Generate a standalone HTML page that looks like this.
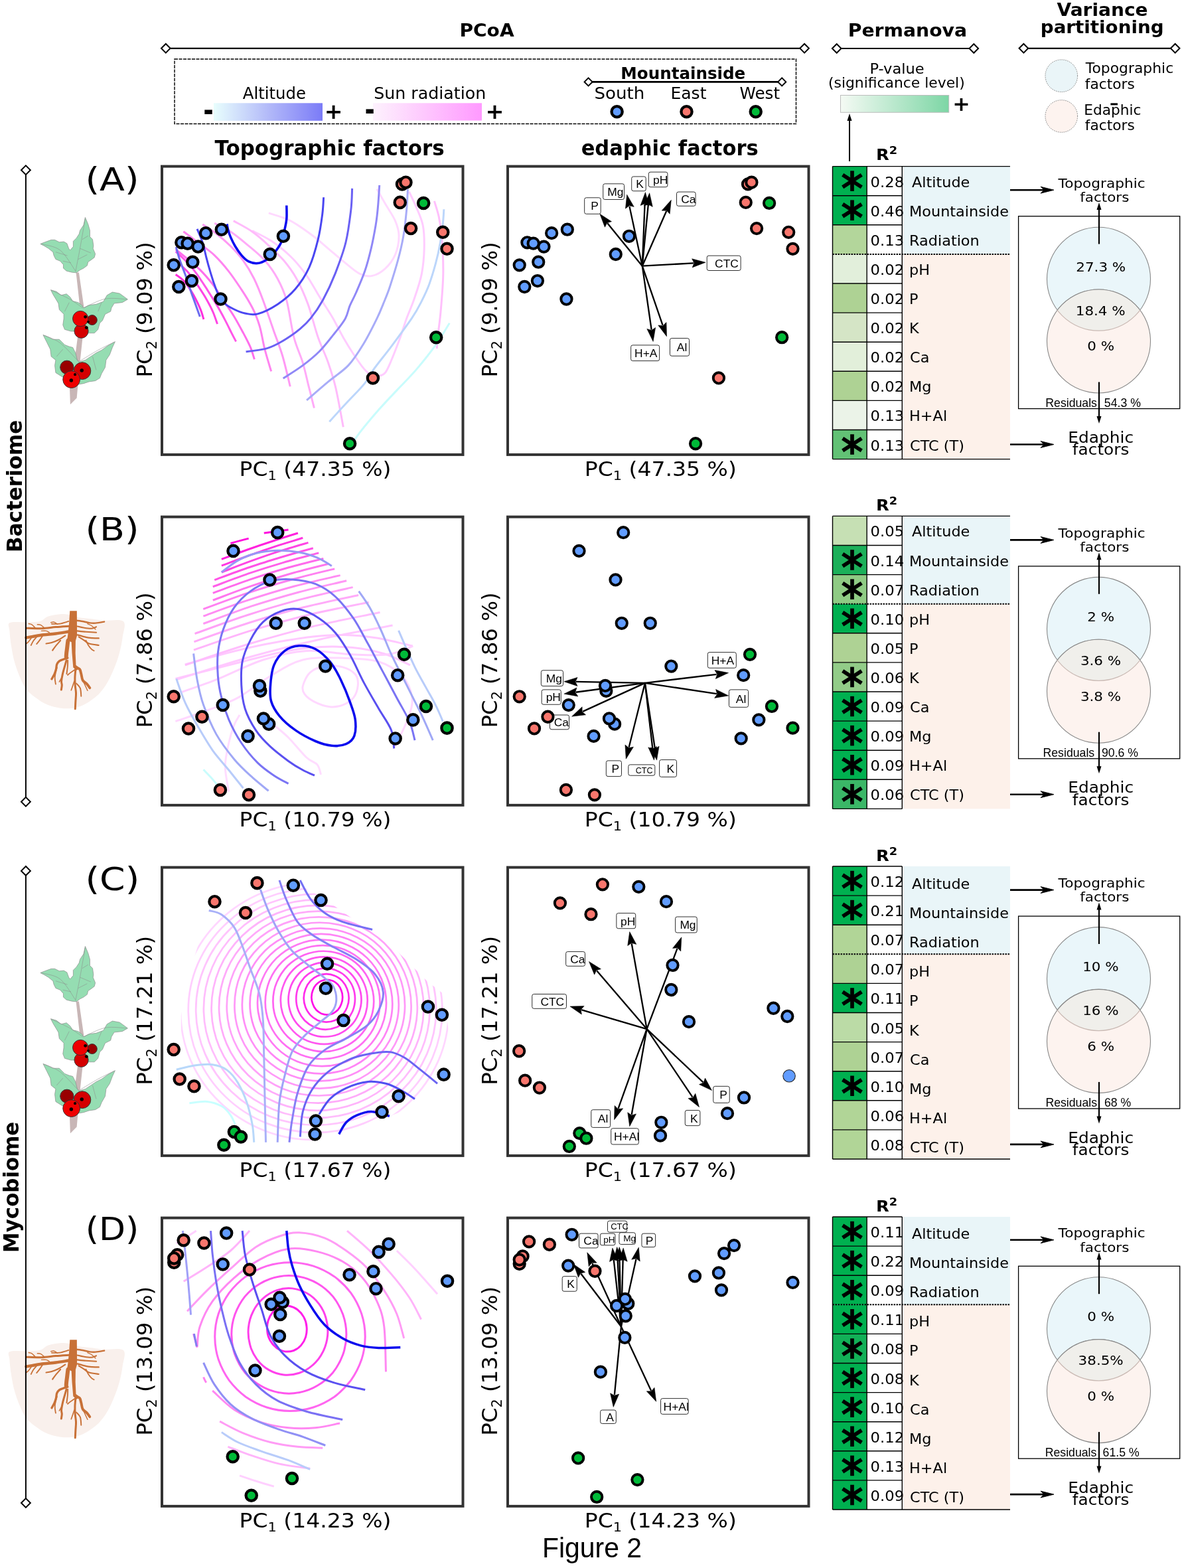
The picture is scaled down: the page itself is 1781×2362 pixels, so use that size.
<!DOCTYPE html><html><head><meta charset="utf-8"><style>html,body{margin:0;padding:0;background:#fff;}svg{display:block;}</style></head><body>
<svg width="1781" height="2362" viewBox="0 0 1781 2362">
<rect width="1781" height="2362" fill="#fff"/>
<text x="692.41" y="54.80" font-size="27.3" font-weight="bold" font-family="'DejaVu Sans', Verdana, sans-serif" fill="#000" textLength="82.21" lengthAdjust="spacingAndGlyphs">PCoA</text>
<line x1="249.8" y1="72.8" x2="1212.1" y2="72.8" stroke="#000" stroke-width="2.2"/>
<path d="M243.0,72.8L249.8,66.0L256.6,72.8L249.8,79.6Z" fill="#fff" stroke="#000" stroke-width="2.0"/>
<path d="M1205.3,72.8L1212.1,66.0L1218.9,72.8L1212.1,79.6Z" fill="#fff" stroke="#000" stroke-width="2.0"/>
<rect x="263" y="89" width="936.5" height="97.5" fill="none" stroke="#000" stroke-width="1.4" stroke-dasharray="5,1.5"/>
<defs><linearGradient id="gAlt" x1="0" x2="1" y1="0" y2="0"><stop offset="0" stop-color="#e8fefd"/><stop offset="0.5" stop-color="#b3baf9"/><stop offset="1" stop-color="#7b7bf7"/></linearGradient><linearGradient id="gSun" x1="0" x2="1" y1="0" y2="0"><stop offset="0" stop-color="#fdf2fd"/><stop offset="1" stop-color="#ff99ff"/></linearGradient><linearGradient id="gP" x1="0" x2="1" y1="0" y2="0"><stop offset="0" stop-color="#f5faf4"/><stop offset="1" stop-color="#7dd6a5"/></linearGradient></defs>
<text x="365.80" y="148.60" font-size="24.5" font-weight="normal" font-family="'DejaVu Sans', Verdana, sans-serif" fill="#000" textLength="95.15" lengthAdjust="spacingAndGlyphs">Altitude</text>
<rect x="322" y="155.3" width="164" height="26.6" fill="url(#gAlt)"/>
<text x="306.16" y="181.90" font-size="46" font-weight="bold" font-family="'DejaVu Sans', Verdana, sans-serif" fill="#000" textLength="15.55" lengthAdjust="spacingAndGlyphs">-</text>
<text x="488.85" y="179.20" font-size="31.5" font-weight="bold" font-family="'DejaVu Sans', Verdana, sans-serif" fill="#000" textLength="27.73" lengthAdjust="spacingAndGlyphs">+</text>
<text x="563.24" y="148.90" font-size="24.5" font-weight="normal" font-family="'DejaVu Sans', Verdana, sans-serif" fill="#000" textLength="169.02" lengthAdjust="spacingAndGlyphs">Sun radiation</text>
<rect x="562" y="155.3" width="164" height="26.3" fill="url(#gSun)"/>
<text x="549.60" y="181.40" font-size="46" font-weight="bold" font-family="'DejaVu Sans', Verdana, sans-serif" fill="#000" textLength="15.28" lengthAdjust="spacingAndGlyphs">-</text>
<text x="731.62" y="179.30" font-size="31.5" font-weight="bold" font-family="'DejaVu Sans', Verdana, sans-serif" fill="#000" textLength="27.99" lengthAdjust="spacingAndGlyphs">+</text>
<text x="935.28" y="118.60" font-size="24.3" font-weight="bold" font-family="'DejaVu Sans', Verdana, sans-serif" fill="#000" textLength="188.00" lengthAdjust="spacingAndGlyphs">Mountainside</text>
<line x1="886.6" y1="123.4" x2="1178.2" y2="123.4" stroke="#000" stroke-width="2.6"/>
<path d="M880.6,123.4L886.6,117.4L892.6,123.4L886.6,129.4Z" fill="#fff" stroke="#000" stroke-width="2.0"/>
<path d="M1172.2,123.4L1178.2,117.4L1184.2,123.4L1178.2,129.4Z" fill="#fff" stroke="#000" stroke-width="2.0"/>
<text x="895.47" y="149.30" font-size="24.5" font-weight="normal" font-family="'DejaVu Sans', Verdana, sans-serif" fill="#000" textLength="75.77" lengthAdjust="spacingAndGlyphs">South</text>
<text x="1010.46" y="149.30" font-size="24.5" font-weight="normal" font-family="'DejaVu Sans', Verdana, sans-serif" fill="#000" textLength="54.04" lengthAdjust="spacingAndGlyphs">East</text>
<text x="1114.60" y="149.30" font-size="24.5" font-weight="normal" font-family="'DejaVu Sans', Verdana, sans-serif" fill="#000" textLength="60.44" lengthAdjust="spacingAndGlyphs">West</text>
<circle cx="929.6" cy="168.3" r="8.1" fill="#619cff" stroke="#000" stroke-width="4.3"/>
<circle cx="1034.5" cy="168.3" r="8.1" fill="#f8766d" stroke="#000" stroke-width="4.3"/>
<circle cx="1138.7" cy="168.3" r="8.1" fill="#00ba38" stroke="#000" stroke-width="4.3"/>
<text x="1277.69" y="55.10" font-size="27.3" font-weight="bold" font-family="'DejaVu Sans', Verdana, sans-serif" fill="#000" textLength="179.44" lengthAdjust="spacingAndGlyphs">Permanova</text>
<line x1="1260.7" y1="73" x2="1467.3" y2="73" stroke="#000" stroke-width="2.2"/>
<path d="M1253.9,73.0L1260.7,66.2L1267.5,73.0L1260.7,79.8Z" fill="#fff" stroke="#000" stroke-width="2.0"/>
<path d="M1460.5,73.0L1467.3,66.2L1474.1,73.0L1467.3,79.8Z" fill="#fff" stroke="#000" stroke-width="2.0"/>
<text x="1310.40" y="111.20" font-size="21.5" font-weight="normal" font-family="'DejaVu Sans', Verdana, sans-serif" fill="#000" textLength="82.27" lengthAdjust="spacingAndGlyphs">P-value</text>
<text x="1247.97" y="132.20" font-size="21.5" font-weight="normal" font-family="'DejaVu Sans', Verdana, sans-serif" fill="#000" textLength="205.73" lengthAdjust="spacingAndGlyphs">(significance level)</text>
<rect x="1266.5" y="143.5" width="163.2" height="25.8" fill="url(#gP)" stroke="#bdbdbd" stroke-width="1"/>
<text x="1435.24" y="167.30" font-size="31" font-weight="bold" font-family="'DejaVu Sans', Verdana, sans-serif" fill="#000" textLength="26.50" lengthAdjust="spacingAndGlyphs">+</text>
<line x1="1280" y1="243" x2="1280" y2="178" stroke="#000" stroke-width="2"/>
<path d="M1276.5,182 L1280,171 L1283.5,182 Z" fill="#000"/>
<text x="1592.50" y="23.80" font-size="27.3" font-weight="bold" font-family="'DejaVu Sans', Verdana, sans-serif" fill="#000" textLength="137.06" lengthAdjust="spacingAndGlyphs">Variance</text>
<text x="1567.77" y="49.80" font-size="27.3" font-weight="bold" font-family="'DejaVu Sans', Verdana, sans-serif" fill="#000" textLength="185.83" lengthAdjust="spacingAndGlyphs">partitioning</text>
<line x1="1542.4" y1="72.8" x2="1770.7" y2="72.8" stroke="#000" stroke-width="2.2"/>
<path d="M1535.6,72.8L1542.4,66.0L1549.2,72.8L1542.4,79.6Z" fill="#fff" stroke="#000" stroke-width="2.0"/>
<path d="M1763.9,72.8L1770.7,66.0L1777.5,72.8L1770.7,79.6Z" fill="#fff" stroke="#000" stroke-width="2.0"/>
<circle cx="1599.3" cy="114.2" r="24.3" fill="#eaf5f8" stroke="#777" stroke-width="1" stroke-dasharray="1.5,1.5"/>
<circle cx="1599.3" cy="175" r="24.3" fill="#fdf3ef" stroke="#777" stroke-width="1" stroke-dasharray="1.5,1.5"/>
<text x="1635.80" y="110.30" font-size="21.5" font-weight="normal" font-family="'DejaVu Sans', Verdana, sans-serif" fill="#000" textLength="132.39" lengthAdjust="spacingAndGlyphs">Topographic</text>
<text x="1634.79" y="134.30" font-size="21.5" font-weight="normal" font-family="'DejaVu Sans', Verdana, sans-serif" fill="#000" textLength="75.03" lengthAdjust="spacingAndGlyphs">factors</text>
<text x="1633.28" y="172.90" font-size="21.5" font-weight="normal" font-family="'DejaVu Sans', Verdana, sans-serif" fill="#000" textLength="86.21" lengthAdjust="spacingAndGlyphs">Edaphic</text>
<text x="1634.79" y="196.40" font-size="21.5" font-weight="normal" font-family="'DejaVu Sans', Verdana, sans-serif" fill="#000" textLength="75.03" lengthAdjust="spacingAndGlyphs">factors</text>
<rect x="1673.4" y="155.4" width="10.6" height="3" fill="#000"/>
<text x="323.40" y="234.20" font-size="31.5" font-weight="bold" font-family="'DejaVu Sans', Verdana, sans-serif" fill="#000" textLength="346.27" lengthAdjust="spacingAndGlyphs">Topographic factors</text>
<text x="875.63" y="234.20" font-size="31.5" font-weight="bold" font-family="'DejaVu Sans', Verdana, sans-serif" fill="#000" textLength="267.04" lengthAdjust="spacingAndGlyphs">edaphic factors</text>
<text x="816.98" y="2346.30" font-size="42" font-weight="normal" font-family="'Liberation Sans', Arial, sans-serif" fill="#000" textLength="150.05" lengthAdjust="spacingAndGlyphs">Figure 2</text>
<g transform="translate(244,251) scale(0.27218)">
<path d="M591,257C611,264 669,278 710,299C751,320 801,357 836,383C871,409 892,430 920,453C948,476 975,501 1004,524C1033,547 1068,580 1095,593C1122,606 1142,609 1165,604C1188,599 1214,584 1235,565C1256,546 1278,518 1291,488C1304,458 1312,414 1312,383C1312,352 1303,327 1291,299C1279,271 1259,244 1242,215C1225,186 1199,139 1190,124" fill="none" stroke="#ffd9ff" stroke-width="11" stroke-linecap="butt" stroke-linejoin="round"/>
<path d="M500,355C518,364 570,388 605,411C640,434 678,465 710,495C742,525 768,558 794,593C820,628 845,675 864,706C883,737 896,758 910,780C924,802 932,813 948,841C964,869 985,913 1004,946C1023,979 1042,1010 1060,1037C1078,1064 1094,1088 1109,1107C1124,1126 1138,1140 1151,1149C1164,1158 1176,1161 1190,1160C1204,1159 1222,1157 1235,1142C1248,1127 1256,1105 1270,1072C1284,1039 1305,984 1319,946C1333,908 1341,876 1354,841C1367,806 1382,775 1396,734C1410,693 1429,640 1438,593C1447,546 1451,497 1452,453C1453,409 1452,364 1445,327C1438,290 1423,260 1410,229C1397,198 1375,153 1368,138" fill="none" stroke="#ffccff" stroke-width="11" stroke-linecap="butt" stroke-linejoin="round"/>
<path d="M1508,191C1512,206 1526,244 1533,278C1540,312 1546,344 1550,397C1554,450 1558,526 1557,594C1556,662 1548,746 1543,804C1538,862 1530,910 1526,944C1522,978 1523,996 1522,1007" fill="none" stroke="#ffc0fc" stroke-width="11" stroke-linecap="butt" stroke-linejoin="round"/>
<path d="M396,300C413,310 469,338 500,360C531,382 555,403 584,430C613,457 648,488 675,520C702,552 723,580 745,620C767,660 788,706 808,760C828,814 845,890 864,944C883,998 904,1037 920,1084C936,1131 948,1164 962,1224C976,1284 997,1405 1004,1441" fill="none" stroke="#ffbbfb" stroke-width="11" stroke-linecap="butt" stroke-linejoin="round"/>
<path d="M291,313C306,321 350,340 380,360C410,380 438,403 470,430C502,457 542,488 570,520C598,552 620,583 640,620C660,657 675,686 690,740C705,794 716,888 731,946C746,1004 766,1039 780,1086C794,1133 804,1184 815,1226C826,1268 838,1318 843,1336" fill="none" stroke="#ffaaf8" stroke-width="11" stroke-linecap="butt" stroke-linejoin="round"/>
<path d="M225,320C238,328 274,350 300,370C326,390 355,415 380,440C405,465 428,490 450,520C472,550 492,583 510,620C528,657 542,692 560,740C578,788 601,858 619,909C637,960 653,998 668,1049C683,1100 703,1189 710,1217" fill="none" stroke="#ff99f4" stroke-width="11" stroke-linecap="butt" stroke-linejoin="round"/>
<path d="M119,359C132,369 172,398 200,420C228,442 262,463 290,490C318,517 345,548 370,580C395,612 418,647 440,680C462,713 483,747 500,780C517,813 528,841 540,880C552,919 559,972 570,1014C581,1056 599,1113 605,1133" fill="none" stroke="#ff84f0" stroke-width="11" stroke-linecap="butt" stroke-linejoin="round"/>
<path d="M76,458C87,467 118,491 140,510C162,529 187,547 210,570C233,593 258,622 280,650C302,678 320,710 340,740C360,770 382,800 400,830C418,860 435,892 450,920C465,948 480,976 490,1000C500,1024 508,1055 512,1066" fill="none" stroke="#ff6eec" stroke-width="11" stroke-linecap="butt" stroke-linejoin="round"/>
<path d="M76,470C85,478 111,500 130,520C149,540 170,563 190,590C210,617 232,652 250,680C268,708 283,732 300,760C317,788 336,823 350,850C364,877 375,900 385,920C395,940 406,960 410,968" fill="none" stroke="#ff55e8" stroke-width="11" stroke-linecap="butt" stroke-linejoin="round"/>
<path d="M76,520C87,530 119,557 140,580C161,603 182,633 200,660C218,687 236,715 250,740C264,765 276,788 285,810C294,832 303,861 307,871" fill="none" stroke="#ff44e4" stroke-width="11" stroke-linecap="butt" stroke-linejoin="round"/>
<path d="M76,597C83,602 105,616 119,630C133,644 147,665 159,684C171,703 182,723 192,743C202,763 212,785 218,802C224,819 229,838 231,845" fill="none" stroke="#ff30dd" stroke-width="11" stroke-linecap="butt" stroke-linejoin="round"/>
<path d="M1592,866C1579,886 1545,946 1515,988C1485,1030 1445,1080 1410,1121C1375,1162 1340,1196 1305,1233C1270,1270 1235,1306 1200,1346C1165,1386 1120,1440 1095,1472C1070,1504 1060,1524 1053,1535" fill="none" stroke="#c8fcfc" stroke-width="11" stroke-linecap="butt" stroke-linejoin="round"/>
<path d="M1561,236C1560,251 1558,296 1554,327C1550,358 1546,390 1540,425C1534,460 1525,500 1515,537C1505,574 1493,614 1480,650C1467,686 1451,718 1435,750C1419,782 1410,800 1382,841C1354,882 1305,948 1270,995C1235,1042 1196,1088 1172,1122C1148,1156 1146,1170 1123,1199C1100,1228 1065,1262 1032,1297C999,1332 944,1393 927,1412" fill="none" stroke="#bcd6fb" stroke-width="11" stroke-linecap="butt" stroke-linejoin="round"/>
<path d="M1361,124C1360,144 1358,200 1354,243C1350,286 1345,336 1337,383C1329,430 1318,476 1305,523C1292,570 1275,624 1262,664C1249,704 1237,730 1225,760C1213,790 1208,804 1190,841C1172,878 1142,938 1116,981C1090,1024 1065,1065 1032,1100C999,1135 958,1159 920,1191C882,1223 821,1276 801,1293" fill="none" stroke="#a8acf8" stroke-width="11" stroke-linecap="butt" stroke-linejoin="round"/>
<path d="M1204,103C1203,120 1200,171 1197,208C1194,245 1190,286 1183,327C1176,368 1168,411 1158,453C1148,495 1137,538 1123,579C1109,620 1088,667 1074,699C1060,731 1050,746 1040,770C1030,794 1030,814 1015,841C1000,868 972,902 948,932C924,962 899,995 871,1023C843,1051 813,1075 780,1100C747,1125 689,1160 671,1172" fill="none" stroke="#9088f7" stroke-width="11" stroke-linecap="butt" stroke-linejoin="round"/>
<path d="M1053,121C1052,141 1052,194 1046,243C1040,292 1032,360 1018,418C1004,476 981,536 960,590C939,644 913,698 890,740C867,782 843,815 822,841C801,867 785,881 766,897C747,913 731,925 710,939C689,953 663,969 640,981C617,993 599,1002 570,1009C541,1016 482,1022 465,1024" fill="none" stroke="#6a60f4" stroke-width="11" stroke-linecap="butt" stroke-linejoin="round"/>
<path d="M895,170C894,186 893,225 888,264C883,303 876,355 864,404C852,453 836,512 815,558C794,604 767,644 738,678C709,712 675,739 640,762C605,785 560,807 530,815C500,823 482,816 460,812C438,808 418,799 400,790C382,781 362,770 350,760C338,750 333,746 325,733C317,720 309,704 300,680C291,656 279,620 270,590C261,560 252,528 245,500C238,472 233,446 225,420C217,394 200,358 195,345" fill="none" stroke="#4a46f2" stroke-width="11" stroke-linecap="butt" stroke-linejoin="round"/>
<path d="M78,445C82,458 91,494 100,520C109,546 120,572 130,600C140,628 151,663 160,690C169,717 177,737 185,760C193,783 206,818 210,830" fill="none" stroke="#6c6cf0" stroke-width="11" stroke-linecap="butt" stroke-linejoin="round"/>
<path d="M690,215C690,228 692,268 690,290C688,312 685,323 680,345C675,367 670,398 660,420C650,442 633,464 620,480C607,496 595,506 580,515C565,524 547,533 530,535C513,537 495,532 480,525C465,518 452,504 440,490C428,476 415,457 405,440C395,423 387,406 380,390C373,374 368,357 365,345C362,333 361,322 360,318" fill="none" stroke="#0a0af0" stroke-width="13" stroke-linecap="butt" stroke-linejoin="round"/>
<circle cx="330" cy="348" r="30.0" fill="#619cff" stroke="#000" stroke-width="15.5"/>
<circle cx="243" cy="368" r="30.0" fill="#619cff" stroke="#000" stroke-width="15.5"/>
<circle cx="108" cy="420" r="30.0" fill="#619cff" stroke="#000" stroke-width="15.5"/>
<circle cx="142" cy="425" r="30.0" fill="#619cff" stroke="#000" stroke-width="15.5"/>
<circle cx="200" cy="443" r="30.0" fill="#619cff" stroke="#000" stroke-width="15.5"/>
<circle cx="65" cy="545" r="30.0" fill="#619cff" stroke="#000" stroke-width="15.5"/>
<circle cx="170" cy="528" r="30.0" fill="#619cff" stroke="#000" stroke-width="15.5"/>
<circle cx="165" cy="632" r="30.0" fill="#619cff" stroke="#000" stroke-width="15.5"/>
<circle cx="93" cy="665" r="30.0" fill="#619cff" stroke="#000" stroke-width="15.5"/>
<circle cx="325" cy="733" r="30.0" fill="#619cff" stroke="#000" stroke-width="15.5"/>
<circle cx="598" cy="485" r="30.0" fill="#619cff" stroke="#000" stroke-width="15.5"/>
<circle cx="672" cy="385" r="30.0" fill="#619cff" stroke="#000" stroke-width="15.5"/>
<circle cx="1330" cy="97" r="30.0" fill="#f8766d" stroke="#000" stroke-width="15.5"/>
<circle cx="1350" cy="87" r="30.0" fill="#f8766d" stroke="#000" stroke-width="15.5"/>
<circle cx="1318" cy="198" r="30.0" fill="#f8766d" stroke="#000" stroke-width="15.5"/>
<circle cx="1378" cy="342" r="30.0" fill="#f8766d" stroke="#000" stroke-width="15.5"/>
<circle cx="1555" cy="363" r="30.0" fill="#f8766d" stroke="#000" stroke-width="15.5"/>
<circle cx="1578" cy="455" r="30.0" fill="#f8766d" stroke="#000" stroke-width="15.5"/>
<circle cx="1168" cy="1170" r="30.0" fill="#f8766d" stroke="#000" stroke-width="15.5"/>
<circle cx="1448" cy="202" r="30.0" fill="#00ba38" stroke="#000" stroke-width="15.5"/>
<circle cx="1518" cy="945" r="30.0" fill="#00ba38" stroke="#000" stroke-width="15.5"/>
<circle cx="1040" cy="1533" r="30.0" fill="#00ba38" stroke="#000" stroke-width="15.5"/>
</g>
<g transform="translate(765,251) scale(0.27218)">
<line x1="745" y1="550" x2="552" y2="313" stroke="#000" stroke-width="8.5"/>
<path d="M510,262L575,304L550,311L538,335Z" fill="#000" stroke="#000" stroke-width="2" stroke-linejoin="miter"/>
<line x1="745" y1="550" x2="674" y2="220" stroke="#000" stroke-width="8.5"/>
<path d="M660,155L699,222L673,216L652,232Z" fill="#000" stroke="#000" stroke-width="2" stroke-linejoin="miter"/>
<line x1="745" y1="550" x2="759" y2="208" stroke="#000" stroke-width="8.5"/>
<path d="M762,142L783,217L759,205L735,215Z" fill="#000" stroke="#000" stroke-width="2" stroke-linejoin="miter"/>
<line x1="745" y1="550" x2="778" y2="212" stroke="#000" stroke-width="8.5"/>
<path d="M785,146L802,222L779,209L754,217Z" fill="#000" stroke="#000" stroke-width="2" stroke-linejoin="miter"/>
<line x1="745" y1="550" x2="879" y2="245" stroke="#000" stroke-width="8.5"/>
<path d="M905,185L897,262L880,243L853,243Z" fill="#000" stroke="#000" stroke-width="2" stroke-linejoin="miter"/>
<line x1="745" y1="550" x2="1029" y2="534" stroke="#000" stroke-width="8.5"/>
<path d="M1095,530L1022,558L1032,534L1020,510Z" fill="#000" stroke="#000" stroke-width="2" stroke-linejoin="miter"/>
<line x1="745" y1="550" x2="796" y2="903" stroke="#000" stroke-width="8.5"/>
<path d="M805,968L771,898L796,906L818,891Z" fill="#000" stroke="#000" stroke-width="2" stroke-linejoin="miter"/>
<line x1="745" y1="550" x2="858" y2="878" stroke="#000" stroke-width="8.5"/>
<path d="M880,940L833,878L859,881L878,862Z" fill="#000" stroke="#000" stroke-width="2" stroke-linejoin="miter"/>
<rect x="425" y="172" width="90" height="90" rx="10" fill="#fff" stroke="#000" stroke-width="3"/>
<text x="503" y="240" font-size="64" text-anchor="end" font-family="'Liberation Sans', Arial, sans-serif">P</text>
<rect x="528" y="95" width="117" height="87" rx="10" fill="#fff" stroke="#000" stroke-width="3"/>
<text x="552" y="162" font-size="64" text-anchor="start" font-family="'Liberation Sans', Arial, sans-serif">Mg</text>
<rect x="686" y="55" width="79" height="80" rx="10" fill="#fff" stroke="#000" stroke-width="3"/>
<text x="753" y="118" font-size="64" text-anchor="end" font-family="'Liberation Sans', Arial, sans-serif">K</text>
<rect x="780" y="30" width="105" height="83" rx="10" fill="#fff" stroke="#000" stroke-width="3"/>
<text x="805" y="95" font-size="64" text-anchor="start" font-family="'Liberation Sans', Arial, sans-serif">pH</text>
<rect x="935" y="140" width="105" height="78" rx="10" fill="#fff" stroke="#000" stroke-width="3"/>
<text x="960" y="202" font-size="64" text-anchor="start" font-family="'Liberation Sans', Arial, sans-serif">Ca</text>
<rect x="1103" y="493" width="187" height="82" rx="10" fill="#fff" stroke="#000" stroke-width="3"/>
<text x="1278" y="557" font-size="64" text-anchor="end" font-family="'Liberation Sans', Arial, sans-serif">CTC</text>
<rect x="682" y="988" width="158" height="87" rx="10" fill="#fff" stroke="#000" stroke-width="3"/>
<text x="702" y="1055" font-size="64" text-anchor="start" font-family="'Liberation Sans', Arial, sans-serif">H+A</text>
<rect x="898" y="950" width="107" height="98" rx="10" fill="#fff" stroke="#000" stroke-width="3"/>
<text x="993" y="1022" font-size="64" text-anchor="end" font-family="'Liberation Sans', Arial, sans-serif">Al</text>
<circle cx="330" cy="348" r="30.0" fill="#619cff" stroke="#000" stroke-width="14.5"/>
<circle cx="243" cy="368" r="30.0" fill="#619cff" stroke="#000" stroke-width="14.5"/>
<circle cx="108" cy="420" r="30.0" fill="#619cff" stroke="#000" stroke-width="14.5"/>
<circle cx="142" cy="425" r="30.0" fill="#619cff" stroke="#000" stroke-width="14.5"/>
<circle cx="200" cy="443" r="30.0" fill="#619cff" stroke="#000" stroke-width="14.5"/>
<circle cx="65" cy="545" r="30.0" fill="#619cff" stroke="#000" stroke-width="14.5"/>
<circle cx="170" cy="528" r="30.0" fill="#619cff" stroke="#000" stroke-width="14.5"/>
<circle cx="165" cy="632" r="30.0" fill="#619cff" stroke="#000" stroke-width="14.5"/>
<circle cx="93" cy="665" r="30.0" fill="#619cff" stroke="#000" stroke-width="14.5"/>
<circle cx="325" cy="733" r="30.0" fill="#619cff" stroke="#000" stroke-width="14.5"/>
<circle cx="598" cy="485" r="30.0" fill="#619cff" stroke="#000" stroke-width="14.5"/>
<circle cx="672" cy="385" r="30.0" fill="#619cff" stroke="#000" stroke-width="14.5"/>
<circle cx="1330" cy="97" r="30.0" fill="#f8766d" stroke="#000" stroke-width="14.5"/>
<circle cx="1350" cy="87" r="30.0" fill="#f8766d" stroke="#000" stroke-width="14.5"/>
<circle cx="1318" cy="198" r="30.0" fill="#f8766d" stroke="#000" stroke-width="14.5"/>
<circle cx="1378" cy="342" r="30.0" fill="#f8766d" stroke="#000" stroke-width="14.5"/>
<circle cx="1555" cy="363" r="30.0" fill="#f8766d" stroke="#000" stroke-width="14.5"/>
<circle cx="1578" cy="455" r="30.0" fill="#f8766d" stroke="#000" stroke-width="14.5"/>
<circle cx="1168" cy="1170" r="30.0" fill="#f8766d" stroke="#000" stroke-width="14.5"/>
<circle cx="1448" cy="202" r="30.0" fill="#00ba38" stroke="#000" stroke-width="14.5"/>
<circle cx="1518" cy="945" r="30.0" fill="#00ba38" stroke="#000" stroke-width="14.5"/>
<circle cx="1040" cy="1533" r="30.0" fill="#00ba38" stroke="#000" stroke-width="14.5"/>
</g>
<g transform="translate(244,779) scale(0.27218)">
<path d="M380,145C397,140 463,122 480,118" fill="none" stroke="#ff10dd" stroke-width="11" stroke-linecap="butt" stroke-linejoin="round"/>
<path d="M565,88C588,85 678,73 700,70" fill="none" stroke="#ff10dd" stroke-width="11" stroke-linecap="butt" stroke-linejoin="round"/>
<path d="M330,233C354,224 424,198 471,181C518,164 565,148 612,133C659,117 730,95 753,88" fill="none" stroke="#ff22dd" stroke-width="11" stroke-linecap="butt" stroke-linejoin="round"/>
<path d="M330,269C355,260 430,231 480,213C530,195 580,178 630,161C680,145 755,123 780,115" fill="none" stroke="#ff36e1" stroke-width="11" stroke-linecap="butt" stroke-linejoin="round"/>
<path d="M330,305C357,295 437,263 490,244C543,225 597,206 650,189C703,172 783,149 810,141" fill="none" stroke="#ff45e4" stroke-width="11" stroke-linecap="butt" stroke-linejoin="round"/>
<path d="M291,348C321,337 412,302 473,281C534,261 594,241 655,223C716,205 807,180 837,172" fill="none" stroke="#ff52e7" stroke-width="11" stroke-linecap="butt" stroke-linejoin="round"/>
<path d="M282,385C315,373 412,336 477,313C542,291 608,270 673,251C738,232 835,207 868,198" fill="none" stroke="#ff5fe9" stroke-width="11" stroke-linecap="butt" stroke-linejoin="round"/>
<path d="M282,420C316,408 418,369 486,346C554,323 622,301 690,282C758,263 860,238 894,229" fill="none" stroke="#ff6bec" stroke-width="11" stroke-linecap="butt" stroke-linejoin="round"/>
<path d="M282,460C318,447 425,405 496,381C568,356 639,334 711,313C782,293 889,267 925,258" fill="none" stroke="#ff76ee" stroke-width="11" stroke-linecap="butt" stroke-linejoin="round"/>
<path d="M229,509C269,494 391,448 471,421C552,394 633,369 714,347C794,324 916,296 956,286" fill="none" stroke="#ff81f1" stroke-width="11" stroke-linecap="butt" stroke-linejoin="round"/>
<path d="M229,548C271,533 397,485 482,458C566,430 650,405 734,382C819,360 945,332 987,322" fill="none" stroke="#ff8cf3" stroke-width="11" stroke-linecap="butt" stroke-linejoin="round"/>
<path d="M229,590C273,574 405,524 493,494C581,465 670,439 758,415C846,391 978,363 1022,352" fill="none" stroke="#ff97f5" stroke-width="11" stroke-linecap="butt" stroke-linejoin="round"/>
<path d="M182,645C231,628 376,573 474,542C571,510 668,482 765,456C863,430 1008,399 1057,388" fill="none" stroke="#ffa1f7" stroke-width="11" stroke-linecap="butt" stroke-linejoin="round"/>
<path d="M178,690C229,672 380,617 481,585C582,553 684,524 785,499C886,473 1037,443 1088,432" fill="none" stroke="#ffabf9" stroke-width="11" stroke-linecap="butt" stroke-linejoin="round"/>
<path d="M176,735C230,717 391,659 499,626C607,594 714,564 822,538C930,513 1091,482 1145,471" fill="none" stroke="#ffb5fb" stroke-width="11" stroke-linecap="butt" stroke-linejoin="round"/>
<path d="M128,815C158,807 248,782 308,766C368,750 426,735 485,722C544,709 602,697 661,687C720,677 778,667 837,661C896,655 954,651 1013,652C1072,653 1126,659 1189,669C1252,679 1355,706 1388,713" fill="none" stroke="#ffc8ff" stroke-width="11" stroke-linecap="butt" stroke-linejoin="round"/>
<path d="M128,819C188,799 368,736 488,700C608,664 727,631 847,602C967,574 1147,540 1207,527" fill="none" stroke="#ffbefd" stroke-width="11" stroke-linecap="butt" stroke-linejoin="round"/>
<path d="M75,894C106,886 203,862 264,846C325,830 382,816 441,801C500,786 566,769 617,757C668,745 705,738 749,731C793,724 830,720 881,718C932,716 998,716 1057,722C1116,728 1180,741 1233,757C1286,773 1350,809 1374,819" fill="none" stroke="#ffc8ff" stroke-width="11" stroke-linecap="butt" stroke-linejoin="round"/>
<path d="M80,900C146,879 346,814 479,776C612,739 745,705 878,676C1011,646 1210,612 1277,599" fill="none" stroke="#ffc8ff" stroke-width="11" stroke-linecap="butt" stroke-linejoin="round"/>
<path d="M75,980C112,967 219,932 300,900C381,868 477,817 560,790C643,763 718,745 800,740C882,735 975,757 1050,760C1125,763 1193,768 1250,760C1307,752 1367,722 1390,714" fill="none" stroke="#ffd0ff" stroke-width="11" stroke-linecap="butt" stroke-linejoin="round"/>
<path d="M75,1130C104,1120 192,1092 250,1070C308,1048 362,1032 420,1000C478,968 540,915 600,880C660,845 713,807 780,790C847,773 930,778 1000,780C1070,782 1145,783 1200,800C1255,817 1299,847 1330,880C1361,913 1380,960 1385,1000C1390,1040 1376,1075 1360,1120C1344,1165 1302,1245 1290,1270" fill="none" stroke="#ffd8ff" stroke-width="11" stroke-linecap="butt" stroke-linejoin="round"/>
<path d="M780,935C785,915 800,878 820,860C840,842 870,830 900,825C930,820 972,822 1000,830C1028,838 1056,853 1070,870C1084,887 1087,908 1085,930C1083,952 1074,982 1060,1000C1046,1018 1022,1032 1000,1040C978,1048 957,1053 930,1050C903,1047 863,1032 840,1020C817,1008 800,994 790,980C780,966 775,955 780,935Z" fill="none" stroke="#ffd8ff" stroke-width="11" stroke-linecap="butt" stroke-linejoin="round"/>
<path d="M430,1095C425,1104 410,1124 400,1150C390,1176 378,1212 370,1250C362,1288 350,1335 350,1380C350,1425 367,1497 370,1520" fill="none" stroke="#ffdcff" stroke-width="11" stroke-linecap="butt" stroke-linejoin="round"/>
<path d="M620,1150C633,1162 670,1190 700,1220C730,1250 773,1305 800,1330C827,1355 847,1354 860,1370C873,1386 877,1416 880,1425" fill="none" stroke="#ffdcff" stroke-width="11" stroke-linecap="butt" stroke-linejoin="round"/>
<path d="M230,1397C238,1406 265,1433 280,1450C295,1467 313,1492 320,1500" fill="none" stroke="#c8fcfc" stroke-width="11" stroke-linecap="butt" stroke-linejoin="round"/>
<path d="M1310,628C1317,643 1335,686 1350,720C1365,754 1382,793 1400,830C1418,867 1442,907 1460,940C1478,973 1494,998 1510,1030C1526,1062 1548,1113 1555,1130" fill="none" stroke="#b8ccfa" stroke-width="11" stroke-linecap="butt" stroke-linejoin="round"/>
<path d="M80,895C88,918 110,986 130,1030C150,1074 175,1117 200,1160C225,1203 252,1250 280,1290C308,1330 342,1365 370,1400C398,1435 437,1483 450,1500" fill="none" stroke="#b8ccfa" stroke-width="11" stroke-linecap="butt" stroke-linejoin="round"/>
<path d="M1090,410C1100,425 1130,465 1150,500C1170,535 1190,577 1210,620C1230,663 1250,717 1270,760C1290,803 1310,840 1330,880C1350,920 1372,963 1390,1000C1408,1037 1422,1061 1440,1100C1458,1139 1490,1212 1500,1235" fill="none" stroke="#a0a8f6" stroke-width="11" stroke-linecap="butt" stroke-linejoin="round"/>
<path d="M175,755C178,779 186,852 195,900C204,948 212,990 230,1040C248,1090 272,1150 300,1200C328,1250 367,1300 400,1340C433,1380 468,1411 500,1440C532,1469 575,1502 590,1515" fill="none" stroke="#a0a8f6" stroke-width="11" stroke-linecap="butt" stroke-linejoin="round"/>
<path d="M330,305C345,294 388,258 420,240C452,222 483,209 520,200C557,191 600,186 640,185C680,184 723,188 760,195C797,202 830,212 860,225C890,238 927,262 940,270" fill="none" stroke="#9898f6" stroke-width="11" stroke-linecap="butt" stroke-linejoin="round"/>
<path d="M1400,1235C1395,1218 1387,1169 1370,1130C1353,1091 1325,1047 1300,1000C1275,953 1247,900 1220,850C1193,800 1167,748 1140,700C1113,652 1090,603 1060,560C1030,517 995,472 960,440C925,408 890,386 850,370C810,354 762,348 720,345C678,342 638,344 600,355C562,366 523,386 490,410C457,434 425,465 400,500C375,535 355,578 340,620C325,662 315,707 310,750C305,793 307,838 310,880C313,922 320,960 330,1000C340,1040 352,1078 370,1120C388,1162 413,1210 440,1250C467,1290 500,1330 530,1360C560,1390 592,1411 620,1430C648,1449 687,1468 700,1475" fill="none" stroke="#7a74f4" stroke-width="11" stroke-linecap="butt" stroke-linejoin="round"/>
<path d="M1285,1280C1282,1263 1284,1217 1270,1180C1256,1143 1225,1103 1200,1060C1175,1017 1147,970 1120,920C1093,870 1067,807 1040,760C1013,713 988,673 960,640C932,607 903,582 870,560C837,538 795,517 760,510C725,503 693,508 660,520C627,532 588,553 560,580C532,607 509,643 490,680C471,717 453,758 445,800C437,842 438,887 440,930C442,973 447,1018 460,1060C473,1102 497,1145 520,1180C543,1215 570,1242 600,1270C630,1298 670,1328 700,1350C730,1372 756,1387 780,1400C804,1413 834,1425 845,1430" fill="none" stroke="#5a50f0" stroke-width="11" stroke-linecap="butt" stroke-linejoin="round"/>
<path d="M600,940C602,907 607,853 620,820C633,787 657,758 680,740C703,722 732,714 760,712C788,710 822,715 850,730C878,745 907,772 930,800C953,828 972,863 990,900C1008,937 1027,983 1040,1020C1053,1057 1066,1088 1070,1120C1074,1152 1073,1188 1065,1210C1057,1232 1041,1246 1020,1255C999,1264 968,1268 940,1265C912,1262 883,1254 850,1240C817,1226 773,1203 740,1180C707,1157 672,1127 650,1100C628,1073 613,1047 605,1020C597,993 598,973 600,940Z" fill="none" stroke="#0a0aee" stroke-width="13" stroke-linecap="butt" stroke-linejoin="round"/>
<circle cx="640" cy="85" r="30.0" fill="#619cff" stroke="#000" stroke-width="15.5"/>
<circle cx="395" cy="187" r="30.0" fill="#619cff" stroke="#000" stroke-width="15.5"/>
<circle cx="597" cy="347" r="30.0" fill="#619cff" stroke="#000" stroke-width="15.5"/>
<circle cx="631" cy="587" r="30.0" fill="#619cff" stroke="#000" stroke-width="15.5"/>
<circle cx="789" cy="587" r="30.0" fill="#619cff" stroke="#000" stroke-width="15.5"/>
<circle cx="905" cy="825" r="30.0" fill="#619cff" stroke="#000" stroke-width="15.5"/>
<circle cx="545" cy="962" r="30.0" fill="#619cff" stroke="#000" stroke-width="15.5"/>
<circle cx="540" cy="933" r="30.0" fill="#619cff" stroke="#000" stroke-width="15.5"/>
<circle cx="337" cy="1040" r="30.0" fill="#619cff" stroke="#000" stroke-width="15.5"/>
<circle cx="592" cy="1145" r="30.0" fill="#619cff" stroke="#000" stroke-width="15.5"/>
<circle cx="562" cy="1115" r="30.0" fill="#619cff" stroke="#000" stroke-width="15.5"/>
<circle cx="476" cy="1212" r="30.0" fill="#619cff" stroke="#000" stroke-width="15.5"/>
<circle cx="1305" cy="875" r="30.0" fill="#619cff" stroke="#000" stroke-width="15.5"/>
<circle cx="1390" cy="1122" r="30.0" fill="#619cff" stroke="#000" stroke-width="15.5"/>
<circle cx="1292" cy="1225" r="30.0" fill="#619cff" stroke="#000" stroke-width="15.5"/>
<circle cx="65" cy="993" r="30.0" fill="#f8766d" stroke="#000" stroke-width="15.5"/>
<circle cx="222" cy="1105" r="30.0" fill="#f8766d" stroke="#000" stroke-width="15.5"/>
<circle cx="147" cy="1170" r="30.0" fill="#f8766d" stroke="#000" stroke-width="15.5"/>
<circle cx="323" cy="1510" r="30.0" fill="#f8766d" stroke="#000" stroke-width="15.5"/>
<circle cx="481" cy="1537" r="30.0" fill="#f8766d" stroke="#000" stroke-width="15.5"/>
<circle cx="1341" cy="760" r="30.0" fill="#00ba38" stroke="#000" stroke-width="15.5"/>
<circle cx="1462" cy="1047" r="30.0" fill="#00ba38" stroke="#000" stroke-width="15.5"/>
<circle cx="1578" cy="1167" r="30.0" fill="#00ba38" stroke="#000" stroke-width="15.5"/>
</g>
<g transform="translate(765,779) scale(0.27218)">
<line x1="760" y1="918" x2="378" y2="911" stroke="#000" stroke-width="8.5"/>
<path d="M312,910L386,887L375,911L386,935Z" fill="#000" stroke="#000" stroke-width="2" stroke-linejoin="miter"/>
<line x1="760" y1="918" x2="377" y2="969" stroke="#000" stroke-width="8.5"/>
<path d="M312,978L382,944L374,970L389,992Z" fill="#000" stroke="#000" stroke-width="2" stroke-linejoin="miter"/>
<line x1="760" y1="918" x2="415" y2="1076" stroke="#000" stroke-width="8.5"/>
<path d="M355,1103L412,1050L412,1077L432,1094Z" fill="#000" stroke="#000" stroke-width="2" stroke-linejoin="miter"/>
<line x1="760" y1="918" x2="1156" y2="870" stroke="#000" stroke-width="8.5"/>
<path d="M1222,862L1151,895L1160,870L1146,847Z" fill="#000" stroke="#000" stroke-width="2" stroke-linejoin="miter"/>
<line x1="760" y1="918" x2="1157" y2="978" stroke="#000" stroke-width="8.5"/>
<path d="M1222,988L1145,1001L1160,979L1152,953Z" fill="#000" stroke="#000" stroke-width="2" stroke-linejoin="miter"/>
<line x1="760" y1="918" x2="671" y2="1274" stroke="#000" stroke-width="8.5"/>
<path d="M655,1338L650,1260L670,1277L696,1272Z" fill="#000" stroke="#000" stroke-width="2" stroke-linejoin="miter"/>
<line x1="760" y1="918" x2="802" y2="1279" stroke="#000" stroke-width="8.5"/>
<path d="M810,1345L778,1274L803,1283L825,1269Z" fill="#000" stroke="#000" stroke-width="2" stroke-linejoin="miter"/>
<line x1="760" y1="918" x2="815" y2="1280" stroke="#000" stroke-width="8.5"/>
<path d="M825,1345L790,1275L816,1283L838,1268Z" fill="#000" stroke="#000" stroke-width="2" stroke-linejoin="miter"/>
<rect x="185" y="848" width="122" height="87" rx="10" fill="#fff" stroke="#000" stroke-width="3"/>
<text x="212" y="915" font-size="64" text-anchor="start" font-family="'Liberation Sans', Arial, sans-serif">Mg</text>
<rect x="188" y="955" width="107" height="82" rx="10" fill="#fff" stroke="#000" stroke-width="3"/>
<text x="212" y="1019" font-size="64" text-anchor="start" font-family="'Liberation Sans', Arial, sans-serif">pH</text>
<rect x="233" y="1095" width="107" height="80" rx="10" fill="#fff" stroke="#000" stroke-width="3"/>
<text x="256" y="1158" font-size="64" text-anchor="start" font-family="'Liberation Sans', Arial, sans-serif">Ca</text>
<rect x="1107" y="748" width="158" height="87" rx="10" fill="#fff" stroke="#000" stroke-width="3"/>
<text x="1127" y="815" font-size="64" text-anchor="start" font-family="'Liberation Sans', Arial, sans-serif">H+A</text>
<rect x="1225" y="955" width="107" height="97" rx="10" fill="#fff" stroke="#000" stroke-width="3"/>
<text x="1320" y="1027" font-size="64" text-anchor="end" font-family="'Liberation Sans', Arial, sans-serif">Al</text>
<rect x="545" y="1348" width="85" height="87" rx="10" fill="#fff" stroke="#000" stroke-width="3"/>
<text x="618" y="1415" font-size="64" text-anchor="end" font-family="'Liberation Sans', Arial, sans-serif">P</text>
<rect x="668" y="1370" width="147" height="60" rx="10" fill="#fff" stroke="#000" stroke-width="3"/>
<text x="803" y="1417" font-size="46" text-anchor="end" font-family="'Liberation Sans', Arial, sans-serif">CTC</text>
<rect x="840" y="1343" width="95" height="95" rx="10" fill="#fff" stroke="#000" stroke-width="3"/>
<text x="923" y="1414" font-size="64" text-anchor="end" font-family="'Liberation Sans', Arial, sans-serif">K</text>
<circle cx="640" cy="85" r="30.0" fill="#619cff" stroke="#000" stroke-width="14.5"/>
<circle cx="395" cy="187" r="30.0" fill="#619cff" stroke="#000" stroke-width="14.5"/>
<circle cx="597" cy="347" r="30.0" fill="#619cff" stroke="#000" stroke-width="14.5"/>
<circle cx="631" cy="587" r="30.0" fill="#619cff" stroke="#000" stroke-width="14.5"/>
<circle cx="789" cy="587" r="30.0" fill="#619cff" stroke="#000" stroke-width="14.5"/>
<circle cx="905" cy="825" r="30.0" fill="#619cff" stroke="#000" stroke-width="14.5"/>
<circle cx="545" cy="962" r="30.0" fill="#619cff" stroke="#000" stroke-width="14.5"/>
<circle cx="540" cy="933" r="30.0" fill="#619cff" stroke="#000" stroke-width="14.5"/>
<circle cx="337" cy="1040" r="30.0" fill="#619cff" stroke="#000" stroke-width="14.5"/>
<circle cx="592" cy="1145" r="30.0" fill="#619cff" stroke="#000" stroke-width="14.5"/>
<circle cx="562" cy="1115" r="30.0" fill="#619cff" stroke="#000" stroke-width="14.5"/>
<circle cx="476" cy="1212" r="30.0" fill="#619cff" stroke="#000" stroke-width="14.5"/>
<circle cx="1305" cy="875" r="30.0" fill="#619cff" stroke="#000" stroke-width="14.5"/>
<circle cx="1390" cy="1122" r="30.0" fill="#619cff" stroke="#000" stroke-width="14.5"/>
<circle cx="1292" cy="1225" r="30.0" fill="#619cff" stroke="#000" stroke-width="14.5"/>
<circle cx="65" cy="993" r="30.0" fill="#f8766d" stroke="#000" stroke-width="14.5"/>
<circle cx="222" cy="1105" r="30.0" fill="#f8766d" stroke="#000" stroke-width="14.5"/>
<circle cx="147" cy="1170" r="30.0" fill="#f8766d" stroke="#000" stroke-width="14.5"/>
<circle cx="323" cy="1510" r="30.0" fill="#f8766d" stroke="#000" stroke-width="14.5"/>
<circle cx="481" cy="1537" r="30.0" fill="#f8766d" stroke="#000" stroke-width="14.5"/>
<circle cx="1341" cy="760" r="30.0" fill="#00ba38" stroke="#000" stroke-width="14.5"/>
<circle cx="1462" cy="1047" r="30.0" fill="#00ba38" stroke="#000" stroke-width="14.5"/>
<circle cx="1578" cy="1167" r="30.0" fill="#00ba38" stroke="#000" stroke-width="14.5"/>
</g>
<g transform="translate(244,1307) scale(0.27218)">
<clipPath id="pc20"><polygon points="105,820 160,560 230,330 300,180 527,70 727,80 880,160 1280,440 1470,630 1560,700 1600,1000 1570,1160 1400,1320 1100,1440 850,1510 500,1525 300,1490 180,1390 105,1200"/></clipPath><g clip-path="url(#pc20)">
<path d="M1000,717C1000,729 998,743 993,754C989,766 983,777 975,786C967,794 957,802 947,807C937,811 925,814 914,814C903,814 891,811 881,807C871,802 861,794 853,786C845,777 839,766 835,754C830,743 828,729 828,717C828,705 830,691 835,680C839,668 845,657 853,648C861,640 871,632 881,627C891,623 903,620 914,620C925,620 937,623 947,627C957,632 967,640 975,648C983,657 989,668 993,680C998,691 1000,705 1000,717Z" fill="none" stroke="#ff10e8" stroke-width="10" stroke-linecap="butt" stroke-linejoin="round"/>
<path d="M1035,722C1035,739 1031,757 1025,773C1019,788 1009,804 998,816C987,828 972,838 958,845C943,851 926,855 910,855C894,855 877,851 862,845C848,838 833,828 822,816C811,804 801,788 795,773C789,757 785,739 785,722C785,705 789,686 795,671C801,655 811,639 822,627C833,615 848,605 862,599C877,592 894,588 910,588C926,588 943,592 958,599C972,605 987,615 998,627C1009,639 1019,655 1025,671C1031,686 1035,705 1035,722Z" fill="none" stroke="#ff2beb" stroke-width="10" stroke-linecap="butt" stroke-linejoin="round"/>
<path d="M1069,726C1069,748 1065,771 1057,791C1049,811 1036,831 1021,846C1007,861 988,874 968,883C949,891 927,896 906,896C885,896 863,891 843,883C824,874 805,861 790,846C776,831 763,811 755,791C747,771 743,748 743,726C743,705 747,681 755,661C763,641 776,622 790,606C805,591 824,578 843,570C863,561 885,557 906,557C927,557 949,561 968,570C988,578 1007,591 1021,606C1036,622 1049,641 1057,661C1065,681 1069,705 1069,726Z" fill="none" stroke="#ff3ced" stroke-width="10" stroke-linecap="butt" stroke-linejoin="round"/>
<path d="M1104,731C1104,757 1098,785 1088,809C1078,834 1063,858 1044,876C1026,895 1003,911 979,921C955,931 928,936 902,936C876,936 848,931 825,921C801,911 777,895 759,876C741,858 725,834 715,809C706,785 700,757 700,731C700,705 706,676 715,652C725,628 741,604 759,585C777,567 801,551 825,541C848,531 876,525 902,525C928,525 955,531 979,541C1003,551 1026,567 1044,585C1063,604 1078,628 1088,652C1098,676 1104,705 1104,731Z" fill="none" stroke="#ff4bef" stroke-width="10" stroke-linecap="butt" stroke-linejoin="round"/>
<path d="M1138,735C1138,766 1132,799 1120,828C1108,856 1089,884 1068,906C1046,928 1018,947 990,959C961,970 928,977 898,977C867,977 834,970 806,959C777,947 749,928 728,906C706,884 687,856 676,828C664,799 657,766 657,735C657,705 664,671 676,643C687,614 706,586 728,564C749,543 777,524 806,512C834,500 867,494 898,494C928,494 961,500 990,512C1018,524 1046,543 1068,564C1089,586 1108,614 1120,643C1132,671 1138,705 1138,735Z" fill="none" stroke="#ff58f0" stroke-width="10" stroke-linecap="butt" stroke-linejoin="round"/>
<path d="M1173,740C1173,775 1165,814 1151,846C1138,879 1116,911 1091,936C1066,961 1033,983 1000,997C968,1010 929,1018 894,1018C858,1018 820,1010 787,997C754,983 722,961 696,936C671,911 650,879 636,846C622,814 615,775 615,740C615,704 622,666 636,634C650,601 671,569 696,543C722,518 754,497 787,483C820,470 858,462 894,462C929,462 968,470 1000,483C1033,497 1066,518 1091,543C1116,569 1138,601 1151,634C1165,666 1173,704 1173,740Z" fill="none" stroke="#ff64f2" stroke-width="10" stroke-linecap="butt" stroke-linejoin="round"/>
<path d="M1207,745C1207,785 1199,828 1183,865C1168,902 1143,938 1114,967C1086,995 1049,1019 1011,1035C974,1050 930,1059 890,1059C849,1059 806,1050 768,1035C731,1019 694,995 665,967C636,938 612,902 596,865C581,828 572,785 572,745C572,704 581,661 596,624C612,587 636,551 665,522C694,494 731,470 768,454C806,439 849,430 890,430C930,430 974,439 1011,454C1049,470 1086,494 1114,522C1143,551 1168,587 1183,624C1199,661 1207,704 1207,745Z" fill="none" stroke="#ff70f3" stroke-width="10" stroke-linecap="butt" stroke-linejoin="round"/>
<path d="M1242,749C1242,794 1232,842 1215,883C1197,924 1170,965 1137,997C1105,1028 1064,1056 1022,1073C980,1090 931,1099 886,1099C840,1099 791,1090 749,1073C707,1056 666,1028 634,997C602,965 574,924 557,883C539,842 529,794 529,749C529,704 539,656 557,615C574,574 602,533 634,501C666,470 707,443 749,426C791,408 840,399 886,399C931,399 980,408 1022,426C1064,443 1105,470 1137,501C1170,533 1197,574 1215,615C1232,656 1242,704 1242,749Z" fill="none" stroke="#ff7af4" stroke-width="10" stroke-linecap="butt" stroke-linejoin="round"/>
<path d="M1276,754C1276,803 1265,856 1246,902C1227,947 1196,992 1161,1027C1125,1062 1079,1092 1033,1111C986,1130 932,1140 882,1140C831,1140 777,1130 730,1111C684,1092 638,1062 602,1027C567,992 536,947 517,902C498,856 487,803 487,754C487,704 498,651 517,606C536,560 567,515 602,480C638,446 684,416 730,397C777,378 831,367 882,367C932,367 986,378 1033,397C1079,416 1125,446 1161,480C1196,515 1227,560 1246,606C1265,651 1276,704 1276,754Z" fill="none" stroke="#ff85f6" stroke-width="10" stroke-linecap="butt" stroke-linejoin="round"/>
<path d="M1311,758C1311,812 1299,870 1278,920C1257,970 1223,1019 1184,1057C1145,1095 1094,1128 1043,1149C992,1169 933,1181 877,1181C822,1181 763,1169 712,1149C661,1128 610,1095 571,1057C532,1019 498,970 477,920C456,870 444,812 444,758C444,704 456,646 477,597C498,547 532,498 571,459C610,421 661,389 712,368C763,347 822,336 877,336C933,336 992,347 1043,368C1094,389 1145,421 1184,459C1223,498 1257,547 1278,597C1299,646 1311,704 1311,758Z" fill="none" stroke="#ff8ff7" stroke-width="10" stroke-linecap="butt" stroke-linejoin="round"/>
<path d="M1345,763C1345,821 1332,884 1309,938C1286,993 1250,1046 1207,1087C1165,1129 1110,1164 1054,1187C998,1209 934,1222 873,1222C813,1222 748,1209 693,1187C637,1164 582,1129 540,1087C497,1046 460,993 437,938C414,884 402,821 402,763C402,704 414,641 437,587C460,533 497,480 540,438C582,397 637,361 693,339C748,317 813,304 873,304C934,304 998,317 1054,339C1110,361 1165,397 1207,438C1250,480 1286,533 1309,587C1332,641 1345,704 1345,763Z" fill="none" stroke="#ff99f8" stroke-width="10" stroke-linecap="butt" stroke-linejoin="round"/>
<path d="M1380,767C1380,831 1366,899 1341,957C1316,1015 1276,1073 1230,1117C1184,1162 1125,1201 1065,1225C1005,1249 934,1262 869,1262C804,1262 734,1249 674,1225C614,1201 554,1162 508,1117C462,1073 423,1015 398,957C373,899 359,831 359,767C359,704 373,636 398,578C423,520 462,462 508,417C554,373 614,334 674,310C734,286 804,273 869,273C934,273 1005,286 1065,310C1125,334 1184,373 1230,417C1276,462 1316,520 1341,578C1366,636 1380,704 1380,767Z" fill="none" stroke="#ffa2f9" stroke-width="10" stroke-linecap="butt" stroke-linejoin="round"/>
<path d="M1414,772C1414,840 1399,913 1373,975C1346,1038 1303,1100 1254,1148C1204,1196 1140,1237 1075,1263C1011,1289 935,1303 865,1303C795,1303 720,1289 655,1263C590,1237 527,1196 477,1148C428,1100 385,1038 358,975C331,913 316,840 316,772C316,704 331,631 358,569C385,506 428,444 477,397C527,349 590,307 655,281C720,255 795,241 865,241C935,241 1011,255 1075,281C1140,307 1204,349 1254,397C1303,444 1346,506 1373,569C1399,631 1414,704 1414,772Z" fill="none" stroke="#ffabfa" stroke-width="10" stroke-linecap="butt" stroke-linejoin="round"/>
<path d="M1449,777C1449,849 1433,927 1404,994C1375,1061 1330,1127 1277,1178C1224,1229 1155,1273 1086,1301C1017,1328 936,1344 861,1344C786,1344 706,1328 636,1301C567,1273 499,1229 446,1178C393,1127 347,1061 318,994C290,927 274,849 274,777C274,704 290,626 318,560C347,493 393,427 446,376C499,324 567,280 636,253C706,225 786,209 861,209C936,209 1017,225 1086,253C1155,280 1224,324 1277,376C1330,427 1375,493 1404,560C1433,626 1449,704 1449,777Z" fill="none" stroke="#ffb4fb" stroke-width="10" stroke-linecap="butt" stroke-linejoin="round"/>
<path d="M1483,781C1483,858 1466,941 1436,1012C1405,1083 1356,1154 1300,1208C1244,1262 1171,1309 1097,1339C1023,1368 937,1385 857,1385C777,1385 691,1368 618,1339C544,1309 471,1262 414,1208C358,1154 309,1083 279,1012C248,941 231,858 231,781C231,704 248,621 279,550C309,479 358,409 414,355C471,300 544,253 618,224C691,194 777,178 857,178C937,178 1023,194 1097,224C1171,253 1244,300 1300,355C1356,409 1405,479 1436,550C1466,621 1483,704 1483,781Z" fill="none" stroke="#ffbdfc" stroke-width="10" stroke-linecap="butt" stroke-linejoin="round"/>
<path d="M1518,786C1518,867 1500,955 1467,1031C1435,1106 1383,1180 1323,1238C1263,1296 1186,1346 1108,1377C1029,1408 938,1425 853,1425C768,1425 677,1408 599,1377C520,1346 443,1296 383,1238C323,1180 271,1106 239,1031C206,955 188,867 188,786C188,704 206,616 239,541C271,466 323,391 383,334C443,276 520,226 599,195C677,164 768,146 853,146C938,146 1029,164 1108,195C1186,226 1263,276 1323,334C1383,391 1435,466 1467,541C1500,616 1518,704 1518,786Z" fill="none" stroke="#ffc5fd" stroke-width="10" stroke-linecap="butt" stroke-linejoin="round"/>
<path d="M1552,790C1552,877 1533,969 1499,1049C1465,1129 1410,1207 1346,1268C1283,1329 1201,1382 1118,1415C1035,1448 939,1466 849,1466C759,1466 663,1448 580,1415C497,1382 415,1329 352,1268C288,1207 234,1129 199,1049C165,969 146,877 146,790C146,704 165,611 199,532C234,452 288,373 352,313C415,252 497,199 580,166C663,133 759,115 849,115C939,115 1035,133 1118,166C1201,199 1283,252 1346,313C1410,373 1465,452 1499,532C1533,611 1552,704 1552,790Z" fill="none" stroke="#ffcefe" stroke-width="10" stroke-linecap="butt" stroke-linejoin="round"/>
<path d="M1587,795C1587,886 1567,984 1531,1067C1494,1151 1437,1234 1370,1298C1303,1363 1216,1418 1129,1453C1042,1488 940,1507 845,1507C750,1507 648,1488 561,1453C474,1418 387,1363 320,1298C253,1234 196,1151 159,1067C123,984 103,886 103,795C103,704 123,606 159,523C196,439 253,356 320,292C387,227 474,172 561,137C648,102 750,83 845,83C940,83 1042,102 1129,137C1216,172 1303,227 1370,292C1437,356 1494,439 1531,523C1567,606 1587,704 1587,795Z" fill="none" stroke="#ffd6ff" stroke-width="10" stroke-linecap="butt" stroke-linejoin="round"/>
</g>
<path d="M152,1303C168,1302 220,1292 250,1295C280,1298 308,1308 330,1320C352,1332 368,1353 380,1370C392,1387 401,1412 405,1420" fill="none" stroke="#c8ffff" stroke-width="11" stroke-linejoin="round"/>
<path d="M80,1118C97,1114 147,1100 180,1095C213,1090 250,1086 280,1090C310,1094 337,1103 360,1120C383,1137 402,1160 420,1190C438,1220 457,1262 470,1300C483,1338 493,1383 500,1420C507,1457 508,1503 510,1520" fill="none" stroke="#b8d8fa" stroke-width="11" stroke-linejoin="round"/>
<path d="M260,237C272,241 307,244 330,260C353,276 382,303 400,330C418,357 425,382 440,420C455,458 473,513 490,560C507,607 528,652 540,700C552,748 556,792 560,850C564,908 563,975 565,1050C567,1125 568,1222 570,1300C572,1378 574,1483 575,1520" fill="none" stroke="#a8b0f8" stroke-width="11" stroke-linejoin="round"/>
<path d="M545,120C552,140 572,200 590,240C608,280 628,323 650,360C672,397 693,430 720,460C747,490 780,515 810,540C840,565 877,590 900,610C923,630 939,638 950,660C961,682 967,717 965,740C963,763 956,780 940,800C924,820 895,838 870,860C845,882 815,903 790,930C765,957 738,983 720,1020C702,1057 692,1103 680,1150C668,1197 657,1238 650,1300C643,1362 642,1483 640,1520" fill="none" stroke="#9fa4f7" stroke-width="11" stroke-linejoin="round"/>
<path d="M650,70C657,88 673,142 690,180C707,218 727,268 750,300C773,332 797,347 830,370C863,393 908,417 950,440C992,463 1042,485 1080,510C1118,535 1156,560 1180,590C1204,620 1222,657 1225,690C1228,723 1214,760 1200,790C1186,820 1168,845 1140,870C1112,895 1070,917 1030,940C990,963 937,983 900,1010C863,1037 835,1060 810,1100C785,1140 765,1200 750,1250C735,1300 728,1355 720,1400C712,1445 708,1500 705,1520" fill="none" stroke="#8680f5" stroke-width="11" stroke-linejoin="round"/>
<path d="M765,70C774,87 798,140 820,170C842,200 870,228 900,250C930,272 956,284 1000,300C1044,316 1138,336 1165,343" fill="none" stroke="#7570f4" stroke-width="11" stroke-linejoin="round"/>
<path d="M765,1490C768,1467 769,1393 780,1350C791,1307 807,1267 830,1230C853,1193 885,1158 920,1130C955,1102 1002,1077 1040,1060C1078,1043 1113,1037 1150,1030C1187,1023 1228,1017 1260,1020C1292,1023 1313,1035 1340,1050C1367,1065 1389,1086 1420,1110C1451,1134 1508,1181 1525,1195" fill="none" stroke="#6a64f2" stroke-width="11" stroke-linejoin="round"/>
<path d="M870,1365C880,1351 905,1304 930,1280C955,1256 985,1236 1020,1220C1055,1204 1103,1189 1140,1185C1177,1181 1210,1188 1240,1195C1270,1202 1293,1216 1320,1230C1347,1244 1387,1272 1400,1280" fill="none" stroke="#5050f0" stroke-width="11" stroke-linejoin="round"/>
<path d="M980,1475C987,1464 1003,1428 1020,1410C1037,1392 1057,1380 1080,1370C1103,1360 1130,1349 1160,1350C1190,1351 1243,1371 1260,1375" fill="none" stroke="#1010ee" stroke-width="13" stroke-linejoin="round"/>
<circle cx="527" cy="85" r="30.0" fill="#f8766d" stroke="#000" stroke-width="15.5"/>
<circle cx="292" cy="188" r="30.0" fill="#f8766d" stroke="#000" stroke-width="15.5"/>
<circle cx="463" cy="250" r="30.0" fill="#f8766d" stroke="#000" stroke-width="15.5"/>
<circle cx="65" cy="1007" r="30.0" fill="#f8766d" stroke="#000" stroke-width="15.5"/>
<circle cx="98" cy="1170" r="30.0" fill="#f8766d" stroke="#000" stroke-width="15.5"/>
<circle cx="178" cy="1210" r="30.0" fill="#f8766d" stroke="#000" stroke-width="15.5"/>
<circle cx="727" cy="98" r="30.0" fill="#619cff" stroke="#000" stroke-width="15.5"/>
<circle cx="880" cy="180" r="30.0" fill="#619cff" stroke="#000" stroke-width="15.5"/>
<circle cx="915" cy="532" r="30.0" fill="#619cff" stroke="#000" stroke-width="15.5"/>
<circle cx="907" cy="668" r="30.0" fill="#619cff" stroke="#000" stroke-width="15.5"/>
<circle cx="1005" cy="845" r="30.0" fill="#619cff" stroke="#000" stroke-width="15.5"/>
<circle cx="1473" cy="770" r="30.0" fill="#619cff" stroke="#000" stroke-width="15.5"/>
<circle cx="1550" cy="815" r="30.0" fill="#619cff" stroke="#000" stroke-width="15.5"/>
<circle cx="1560" cy="1145" r="30.0" fill="#619cff" stroke="#000" stroke-width="15.5"/>
<circle cx="1310" cy="1265" r="30.0" fill="#619cff" stroke="#000" stroke-width="15.5"/>
<circle cx="1218" cy="1352" r="30.0" fill="#619cff" stroke="#000" stroke-width="15.5"/>
<circle cx="852" cy="1402" r="30.0" fill="#619cff" stroke="#000" stroke-width="15.5"/>
<circle cx="847" cy="1475" r="30.0" fill="#619cff" stroke="#000" stroke-width="15.5"/>
<circle cx="400" cy="1462" r="30.0" fill="#00ba38" stroke="#000" stroke-width="15.5"/>
<circle cx="437" cy="1490" r="30.0" fill="#00ba38" stroke="#000" stroke-width="15.5"/>
<circle cx="343" cy="1535" r="30.0" fill="#00ba38" stroke="#000" stroke-width="15.5"/>
</g>
<g transform="translate(765,1307) scale(0.27218)">
<line x1="770" y1="893" x2="686" y2="420" stroke="#000" stroke-width="8.5"/>
<path d="M675,355L712,424L686,417L664,432Z" fill="#000" stroke="#000" stroke-width="2" stroke-linejoin="miter"/>
<line x1="770" y1="893" x2="939" y2="447" stroke="#000" stroke-width="8.5"/>
<path d="M962,385L958,463L940,444L913,446Z" fill="#000" stroke="#000" stroke-width="2" stroke-linejoin="miter"/>
<line x1="770" y1="893" x2="493" y2="570" stroke="#000" stroke-width="8.5"/>
<path d="M450,520L516,561L491,568L480,592Z" fill="#000" stroke="#000" stroke-width="2" stroke-linejoin="miter"/>
<line x1="770" y1="893" x2="408" y2="787" stroke="#000" stroke-width="8.5"/>
<path d="M345,768L423,766L405,786L409,812Z" fill="#000" stroke="#000" stroke-width="2" stroke-linejoin="miter"/>
<line x1="770" y1="893" x2="1082" y2="1188" stroke="#000" stroke-width="8.5"/>
<path d="M1130,1233L1060,1200L1084,1190L1093,1165Z" fill="#000" stroke="#000" stroke-width="2" stroke-linejoin="miter"/>
<line x1="770" y1="893" x2="1023" y2="1270" stroke="#000" stroke-width="8.5"/>
<path d="M1060,1325L999,1277L1025,1273L1039,1250Z" fill="#000" stroke="#000" stroke-width="2" stroke-linejoin="miter"/>
<line x1="770" y1="893" x2="612" y2="1333" stroke="#000" stroke-width="8.5"/>
<path d="M590,1395L592,1317L611,1336L638,1333Z" fill="#000" stroke="#000" stroke-width="2" stroke-linejoin="miter"/>
<line x1="770" y1="893" x2="686" y2="1367" stroke="#000" stroke-width="8.5"/>
<path d="M675,1432L664,1355L686,1370L711,1363Z" fill="#000" stroke="#000" stroke-width="2" stroke-linejoin="miter"/>
<rect x="602" y="252" width="106" height="85" rx="10" fill="#fff" stroke="#000" stroke-width="3"/>
<text x="625" y="318" font-size="64" text-anchor="start" font-family="'Liberation Sans', Arial, sans-serif">pH</text>
<rect x="928" y="272" width="120" height="88" rx="10" fill="#fff" stroke="#000" stroke-width="3"/>
<text x="953" y="339" font-size="64" text-anchor="start" font-family="'Liberation Sans', Arial, sans-serif">Mg</text>
<rect x="322" y="465" width="106" height="80" rx="10" fill="#fff" stroke="#000" stroke-width="3"/>
<text x="346" y="528" font-size="64" text-anchor="start" font-family="'Liberation Sans', Arial, sans-serif">Ca</text>
<rect x="135" y="700" width="190" height="80" rx="10" fill="#fff" stroke="#000" stroke-width="3"/>
<text x="313" y="763" font-size="64" text-anchor="end" font-family="'Liberation Sans', Arial, sans-serif">CTC</text>
<rect x="1138" y="1210" width="90" height="92" rx="10" fill="#fff" stroke="#000" stroke-width="3"/>
<text x="1216" y="1279" font-size="64" text-anchor="end" font-family="'Liberation Sans', Arial, sans-serif">P</text>
<rect x="982" y="1343" width="83" height="85" rx="10" fill="#fff" stroke="#000" stroke-width="3"/>
<text x="1053" y="1409" font-size="64" text-anchor="end" font-family="'Liberation Sans', Arial, sans-serif">K</text>
<rect x="462" y="1340" width="106" height="98" rx="10" fill="#fff" stroke="#000" stroke-width="3"/>
<text x="556" y="1412" font-size="64" text-anchor="end" font-family="'Liberation Sans', Arial, sans-serif">Al</text>
<rect x="572" y="1443" width="153" height="89" rx="10" fill="#fff" stroke="#000" stroke-width="3"/>
<text x="588" y="1511" font-size="64" text-anchor="start" font-family="'Liberation Sans', Arial, sans-serif">H+Al</text>
<circle cx="525" cy="93" r="30.0" fill="#f8766d" stroke="#000" stroke-width="14.5"/>
<circle cx="290" cy="196" r="30.0" fill="#f8766d" stroke="#000" stroke-width="14.5"/>
<circle cx="461" cy="258" r="30.0" fill="#f8766d" stroke="#000" stroke-width="14.5"/>
<circle cx="63" cy="1015" r="30.0" fill="#f8766d" stroke="#000" stroke-width="14.5"/>
<circle cx="96" cy="1178" r="30.0" fill="#f8766d" stroke="#000" stroke-width="14.5"/>
<circle cx="176" cy="1218" r="30.0" fill="#f8766d" stroke="#000" stroke-width="14.5"/>
<circle cx="725" cy="106" r="30.0" fill="#619cff" stroke="#000" stroke-width="14.5"/>
<circle cx="878" cy="188" r="30.0" fill="#619cff" stroke="#000" stroke-width="14.5"/>
<circle cx="913" cy="540" r="30.0" fill="#619cff" stroke="#000" stroke-width="14.5"/>
<circle cx="905" cy="676" r="30.0" fill="#619cff" stroke="#000" stroke-width="14.5"/>
<circle cx="1003" cy="853" r="30.0" fill="#619cff" stroke="#000" stroke-width="14.5"/>
<circle cx="1471" cy="778" r="30.0" fill="#619cff" stroke="#000" stroke-width="14.5"/>
<circle cx="1548" cy="823" r="30.0" fill="#619cff" stroke="#000" stroke-width="14.5"/>
<circle cx="1558" cy="1153" r="34" fill="#619cff" stroke="#222" stroke-width="4"/>
<circle cx="1308" cy="1273" r="30.0" fill="#619cff" stroke="#000" stroke-width="14.5"/>
<circle cx="1216" cy="1360" r="30.0" fill="#619cff" stroke="#000" stroke-width="14.5"/>
<circle cx="850" cy="1410" r="30.0" fill="#619cff" stroke="#000" stroke-width="14.5"/>
<circle cx="845" cy="1483" r="30.0" fill="#619cff" stroke="#000" stroke-width="14.5"/>
<circle cx="398" cy="1470" r="30.0" fill="#00ba38" stroke="#000" stroke-width="14.5"/>
<circle cx="435" cy="1498" r="30.0" fill="#00ba38" stroke="#000" stroke-width="14.5"/>
<circle cx="341" cy="1543" r="30.0" fill="#00ba38" stroke="#000" stroke-width="14.5"/>
</g>
<g transform="translate(244,1835) scale(0.27218)">
<path d="M80,140C98,128 172,82 190,70" fill="none" stroke="#ffd0ff" stroke-width="11" stroke-linecap="butt" stroke-linejoin="round"/>
<path d="M1300,180C1317,197 1362,240 1400,280C1438,320 1504,397 1525,420" fill="none" stroke="#ffd0ff" stroke-width="11" stroke-linecap="butt" stroke-linejoin="round"/>
<path d="M430,1425C445,1430 488,1445 520,1455C552,1465 603,1480 620,1485" fill="none" stroke="#ffd0ff" stroke-width="11" stroke-linecap="butt" stroke-linejoin="round"/>
<path d="M120,350C142,337 207,298 250,270C293,242 341,213 380,180C419,147 468,88 485,70" fill="none" stroke="#ffb4fa" stroke-width="11" stroke-linecap="butt" stroke-linejoin="round"/>
<path d="M1025,70C1046,88 1109,140 1150,180C1191,220 1233,267 1270,310C1307,353 1342,398 1370,440C1398,482 1424,540 1435,560" fill="none" stroke="#ffb4fa" stroke-width="11" stroke-linecap="butt" stroke-linejoin="round"/>
<path d="M365,1265C388,1273 452,1299 500,1315C548,1331 597,1348 650,1360C703,1372 792,1381 820,1385" fill="none" stroke="#ffb4fa" stroke-width="11" stroke-linecap="butt" stroke-linejoin="round"/>
<path d="M140,515C158,496 210,439 250,400C290,361 335,320 380,280C425,240 475,190 520,160C565,130 610,113 650,100C690,87 718,78 760,80C802,82 857,93 900,110C943,127 982,153 1020,180C1058,207 1095,233 1130,270C1165,307 1202,357 1230,400C1258,443 1282,486 1300,530C1318,574 1333,642 1340,665" fill="none" stroke="#ff9cf5" stroke-width="11" stroke-linecap="butt" stroke-linejoin="round"/>
<path d="M320,1125C342,1136 403,1171 450,1190C497,1209 550,1228 600,1240C650,1252 702,1260 750,1265C798,1270 867,1271 890,1272" fill="none" stroke="#ff9cf5" stroke-width="11" stroke-linecap="butt" stroke-linejoin="round"/>
<path d="M195,710C198,692 196,642 210,600C224,558 248,505 280,460C312,415 357,368 400,330C443,292 490,257 540,230C590,203 647,178 700,170C753,162 810,173 860,185C910,197 958,216 1000,240C1042,264 1078,293 1110,330C1142,367 1170,415 1190,460C1210,505 1222,535 1230,600C1238,665 1238,808 1240,850" fill="none" stroke="#ff88f2" stroke-width="11" stroke-linecap="butt" stroke-linejoin="round"/>
<path d="M280,955C300,972 355,1031 400,1060C445,1089 500,1113 550,1130C600,1147 650,1155 700,1160C750,1165 802,1164 850,1160C898,1156 962,1139 985,1135" fill="none" stroke="#ff88f2" stroke-width="11" stroke-linecap="butt" stroke-linejoin="round"/>
<path d="M175,640C178,652 192,702 195,715" fill="none" stroke="#ff70f0" stroke-width="11" stroke-linecap="butt" stroke-linejoin="round"/>
<path d="M230,880C232,885 242,905 245,910" fill="none" stroke="#ff80f0" stroke-width="11" stroke-linecap="butt" stroke-linejoin="round"/>
<path d="M1125,656C1125,698 1118,743 1105,783C1091,823 1071,863 1046,898C1020,932 988,964 954,989C919,1013 878,1034 838,1047C797,1060 752,1067 709,1067C666,1067 621,1060 580,1047C540,1034 499,1013 464,989C430,964 398,932 372,898C347,863 327,823 313,783C300,743 293,698 293,656C293,614 300,569 313,529C327,489 347,449 372,414C398,380 430,348 464,323C499,299 540,278 580,265C621,252 666,245 709,245C752,245 797,252 838,265C878,278 919,299 954,323C988,348 1020,380 1046,414C1071,449 1091,489 1105,529C1118,569 1125,614 1125,656Z" fill="none" stroke="#ff66f0" stroke-width="11" stroke-linecap="butt" stroke-linejoin="round"/>
<path d="M1021,644C1021,681 1014,721 1002,755C989,790 970,825 947,854C923,882 893,908 862,926C831,945 794,959 758,965C723,972 683,972 648,965C612,959 575,945 544,926C513,908 483,882 459,854C436,825 417,790 404,755C392,721 385,681 385,644C385,607 392,567 404,533C417,498 436,463 459,434C483,406 513,380 544,362C575,343 612,329 648,323C683,316 723,316 758,323C794,329 831,343 862,362C893,380 923,406 947,434C970,463 989,498 1002,533C1014,567 1021,607 1021,644Z" fill="none" stroke="#ff55ee" stroke-width="11" stroke-linecap="butt" stroke-linejoin="round"/>
<path d="M917,650C914,680 905,713 891,740C878,767 858,793 836,812C814,832 787,848 760,857C733,866 702,870 674,867C646,864 617,854 592,840C567,826 544,805 526,781C509,758 494,728 487,699C479,670 476,636 479,606C482,576 491,543 505,516C518,489 538,463 560,444C582,424 609,408 636,399C663,390 694,386 722,389C750,392 779,402 804,416C829,430 852,451 870,475C887,498 902,528 909,557C917,586 920,620 917,650Z" fill="none" stroke="#ff40ec" stroke-width="11" stroke-linecap="butt" stroke-linejoin="round"/>
<path d="M801,601C803,619 801,640 796,657C791,674 781,691 770,704C759,717 744,727 729,733C714,738 696,740 680,738C664,735 647,728 634,718C620,707 607,692 599,677C590,661 584,641 583,623C581,605 583,584 588,567C593,550 603,533 614,520C625,507 640,497 655,491C670,486 688,484 704,486C720,489 737,496 750,506C764,517 777,532 785,547C794,563 800,583 801,601Z" fill="none" stroke="#ff20ea" stroke-width="11" stroke-linecap="butt" stroke-linejoin="round"/>
<path d="M330,1185C345,1194 383,1222 420,1240C457,1258 503,1273 550,1290C597,1307 655,1323 700,1340C745,1357 800,1382 820,1390" fill="none" stroke="#b8ccfa" stroke-width="11" stroke-linecap="butt" stroke-linejoin="round"/>
<path d="M230,800C240,820 265,882 290,920C315,958 345,998 380,1030C415,1062 455,1087 500,1110C545,1133 603,1153 650,1170C697,1187 738,1195 780,1210C822,1225 884,1250 905,1258" fill="none" stroke="#9090f5" stroke-width="11" stroke-linecap="butt" stroke-linejoin="round"/>
<path d="M115,70C118,92 125,153 130,200C135,247 140,294 145,350C150,406 158,504 160,535" fill="none" stroke="#a0a0f8" stroke-width="11" stroke-linecap="butt" stroke-linejoin="round"/>
<path d="M178,640C180,652 190,698 192,710" fill="none" stroke="#8080f0" stroke-width="11" stroke-linecap="butt" stroke-linejoin="round"/>
<path d="M270,70C272,92 275,153 280,200C285,247 292,300 300,350C308,400 318,450 330,500C342,550 353,600 370,650C387,700 405,755 430,800C455,845 485,885 520,920C555,955 593,985 640,1010C687,1035 740,1052 800,1070C860,1088 967,1108 1000,1115" fill="none" stroke="#7a70f4" stroke-width="11" stroke-linecap="butt" stroke-linejoin="round"/>
<path d="M445,70C448,92 451,153 460,200C469,247 485,300 500,350C515,400 533,450 550,500C567,550 578,607 600,650C622,693 647,727 680,760C713,793 755,825 800,850C845,875 896,893 950,910C1004,927 1096,943 1125,950" fill="none" stroke="#5a50f0" stroke-width="11" stroke-linecap="butt" stroke-linejoin="round"/>
<path d="M690,70C692,87 695,138 700,170C705,202 710,227 720,260C730,293 743,333 760,370C777,407 797,443 820,480C843,517 870,559 900,590C930,621 967,646 1000,665C1033,684 1067,696 1100,705C1133,714 1163,716 1200,718C1237,720 1300,716 1320,715" fill="none" stroke="#0a0aee" stroke-width="13" stroke-linecap="butt" stroke-linejoin="round"/>
<circle cx="120" cy="122" r="30.0" fill="#f8766d" stroke="#000" stroke-width="15.5"/>
<circle cx="233" cy="138" r="30.0" fill="#f8766d" stroke="#000" stroke-width="15.5"/>
<circle cx="85" cy="203" r="30.0" fill="#f8766d" stroke="#000" stroke-width="15.5"/>
<circle cx="67" cy="245" r="30.0" fill="#f8766d" stroke="#000" stroke-width="15.5"/>
<circle cx="67" cy="222" r="30.0" fill="#f8766d" stroke="#000" stroke-width="15.5"/>
<circle cx="485" cy="285" r="30.0" fill="#f8766d" stroke="#000" stroke-width="15.5"/>
<circle cx="357" cy="83" r="30.0" fill="#619cff" stroke="#000" stroke-width="15.5"/>
<circle cx="337" cy="255" r="30.0" fill="#619cff" stroke="#000" stroke-width="15.5"/>
<circle cx="1255" cy="143" r="30.0" fill="#619cff" stroke="#000" stroke-width="15.5"/>
<circle cx="1200" cy="187" r="30.0" fill="#619cff" stroke="#000" stroke-width="15.5"/>
<circle cx="1038" cy="313" r="30.0" fill="#619cff" stroke="#000" stroke-width="15.5"/>
<circle cx="1170" cy="295" r="30.0" fill="#619cff" stroke="#000" stroke-width="15.5"/>
<circle cx="1185" cy="390" r="30.0" fill="#619cff" stroke="#000" stroke-width="15.5"/>
<circle cx="1580" cy="348" r="30.0" fill="#619cff" stroke="#000" stroke-width="15.5"/>
<circle cx="668" cy="465" r="30.0" fill="#619cff" stroke="#000" stroke-width="15.5"/>
<circle cx="652" cy="440" r="30.0" fill="#619cff" stroke="#000" stroke-width="15.5"/>
<circle cx="605" cy="477" r="30.0" fill="#619cff" stroke="#000" stroke-width="15.5"/>
<circle cx="655" cy="533" r="30.0" fill="#619cff" stroke="#000" stroke-width="15.5"/>
<circle cx="650" cy="653" r="30.0" fill="#619cff" stroke="#000" stroke-width="15.5"/>
<circle cx="516" cy="843" r="30.0" fill="#619cff" stroke="#000" stroke-width="15.5"/>
<circle cx="392" cy="1320" r="30.0" fill="#00ba38" stroke="#000" stroke-width="15.5"/>
<circle cx="720" cy="1440" r="30.0" fill="#00ba38" stroke="#000" stroke-width="15.5"/>
<circle cx="495" cy="1535" r="30.0" fill="#00ba38" stroke="#000" stroke-width="15.5"/>
</g>
<g transform="translate(765,1835) scale(0.27218)">
<line x1="628" y1="600" x2="405" y2="307" stroke="#000" stroke-width="8.5"/>
<path d="M365,255L429,299L403,305L391,328Z" fill="#000" stroke="#000" stroke-width="2" stroke-linejoin="miter"/>
<line x1="628" y1="600" x2="468" y2="250" stroke="#000" stroke-width="8.5"/>
<path d="M440,190L493,247L466,247L449,267Z" fill="#000" stroke="#000" stroke-width="2" stroke-linejoin="miter"/>
<line x1="628" y1="600" x2="587" y2="231" stroke="#000" stroke-width="8.5"/>
<path d="M580,165L612,236L587,228L564,241Z" fill="#000" stroke="#000" stroke-width="2" stroke-linejoin="miter"/>
<line x1="628" y1="600" x2="608" y2="226" stroke="#000" stroke-width="8.5"/>
<path d="M605,160L633,233L608,223L585,235Z" fill="#000" stroke="#000" stroke-width="2" stroke-linejoin="miter"/>
<line x1="628" y1="600" x2="619" y2="226" stroke="#000" stroke-width="8.5"/>
<path d="M618,160L644,233L619,223L596,235Z" fill="#000" stroke="#000" stroke-width="2" stroke-linejoin="miter"/>
<line x1="628" y1="600" x2="638" y2="231" stroke="#000" stroke-width="8.5"/>
<path d="M640,165L662,240L638,228L614,238Z" fill="#000" stroke="#000" stroke-width="2" stroke-linejoin="miter"/>
<line x1="628" y1="600" x2="711" y2="226" stroke="#000" stroke-width="8.5"/>
<path d="M725,162L732,239L711,223L686,229Z" fill="#000" stroke="#000" stroke-width="2" stroke-linejoin="miter"/>
<line x1="628" y1="600" x2="591" y2="979" stroke="#000" stroke-width="8.5"/>
<path d="M585,1045L568,969L591,982L616,974Z" fill="#000" stroke="#000" stroke-width="2" stroke-linejoin="miter"/>
<line x1="628" y1="600" x2="794" y2="955" stroke="#000" stroke-width="8.5"/>
<path d="M822,1015L769,958L795,958L812,938Z" fill="#000" stroke="#000" stroke-width="2" stroke-linejoin="miter"/>
<rect x="553" y="15" width="107" height="63" rx="10" fill="#fff" stroke="#000" stroke-width="3"/>
<text x="570" y="64" font-size="48" text-anchor="start" font-family="'Liberation Sans', Arial, sans-serif">CTC</text>
<rect x="302" y="322" width="81" height="83" rx="10" fill="#fff" stroke="#000" stroke-width="3"/>
<text x="371" y="387" font-size="64" text-anchor="end" font-family="'Liberation Sans', Arial, sans-serif">K</text>
<rect x="395" y="85" width="105" height="80" rx="10" fill="#fff" stroke="#000" stroke-width="3"/>
<text x="420" y="148" font-size="64" text-anchor="start" font-family="'Liberation Sans', Arial, sans-serif">Ca</text>
<rect x="512" y="85" width="83" height="65" rx="10" fill="#fff" stroke="#000" stroke-width="3"/>
<text x="530" y="136" font-size="50" text-anchor="start" font-family="'Liberation Sans', Arial, sans-serif">pH</text>
<rect x="617" y="80" width="90" height="65" rx="10" fill="#fff" stroke="#000" stroke-width="3"/>
<text x="640" y="130" font-size="50" text-anchor="start" font-family="'Liberation Sans', Arial, sans-serif">Mg</text>
<rect x="742" y="85" width="76" height="75" rx="10" fill="#fff" stroke="#000" stroke-width="3"/>
<text x="806" y="146" font-size="64" text-anchor="end" font-family="'Liberation Sans', Arial, sans-serif">P</text>
<rect x="513" y="1062" width="87" height="75" rx="10" fill="#fff" stroke="#000" stroke-width="3"/>
<text x="545" y="1123" font-size="64" text-anchor="start" font-family="'Liberation Sans', Arial, sans-serif">A</text>
<rect x="847" y="998" width="153" height="87" rx="10" fill="#fff" stroke="#000" stroke-width="3"/>
<text x="862" y="1065" font-size="64" text-anchor="start" font-family="'Liberation Sans', Arial, sans-serif">H+Al</text>
<circle cx="118" cy="130" r="30.0" fill="#f8766d" stroke="#000" stroke-width="14.5"/>
<circle cx="231" cy="146" r="30.0" fill="#f8766d" stroke="#000" stroke-width="14.5"/>
<circle cx="83" cy="211" r="30.0" fill="#f8766d" stroke="#000" stroke-width="14.5"/>
<circle cx="65" cy="253" r="30.0" fill="#f8766d" stroke="#000" stroke-width="14.5"/>
<circle cx="65" cy="230" r="30.0" fill="#f8766d" stroke="#000" stroke-width="14.5"/>
<circle cx="483" cy="293" r="30.0" fill="#f8766d" stroke="#000" stroke-width="14.5"/>
<circle cx="355" cy="91" r="30.0" fill="#619cff" stroke="#000" stroke-width="14.5"/>
<circle cx="335" cy="263" r="30.0" fill="#619cff" stroke="#000" stroke-width="14.5"/>
<circle cx="1253" cy="151" r="30.0" fill="#619cff" stroke="#000" stroke-width="14.5"/>
<circle cx="1198" cy="195" r="30.0" fill="#619cff" stroke="#000" stroke-width="14.5"/>
<circle cx="1036" cy="321" r="30.0" fill="#619cff" stroke="#000" stroke-width="14.5"/>
<circle cx="1168" cy="303" r="30.0" fill="#619cff" stroke="#000" stroke-width="14.5"/>
<circle cx="1183" cy="398" r="30.0" fill="#619cff" stroke="#000" stroke-width="14.5"/>
<circle cx="1578" cy="356" r="30.0" fill="#619cff" stroke="#000" stroke-width="14.5"/>
<circle cx="666" cy="473" r="30.0" fill="#619cff" stroke="#000" stroke-width="14.5"/>
<circle cx="650" cy="448" r="30.0" fill="#619cff" stroke="#000" stroke-width="14.5"/>
<circle cx="603" cy="485" r="30.0" fill="#619cff" stroke="#000" stroke-width="14.5"/>
<circle cx="653" cy="541" r="30.0" fill="#619cff" stroke="#000" stroke-width="14.5"/>
<circle cx="648" cy="661" r="30.0" fill="#619cff" stroke="#000" stroke-width="14.5"/>
<circle cx="514" cy="851" r="30.0" fill="#619cff" stroke="#000" stroke-width="14.5"/>
<circle cx="390" cy="1328" r="30.0" fill="#00ba38" stroke="#000" stroke-width="14.5"/>
<circle cx="718" cy="1448" r="30.0" fill="#00ba38" stroke="#000" stroke-width="14.5"/>
<circle cx="493" cy="1543" r="30.0" fill="#00ba38" stroke="#000" stroke-width="14.5"/>
</g>
<g transform="translate(50,320) scale(0.13563)">
<path d="M476,668 L508,668 L562,1040 L548,1400 L522,1640 L484,2060 L412,2132 L406,1960 L462,1630 L492,1400 L518,1040 Z" fill="#c8b6b6"/>
<polygon points="80,350 130,330 200,305 240,305 290,330 340,325 375,345 395,400 410,420 445,380 445,320 480,285 510,240 520,200 560,140 578,55 610,130 630,200 630,270 660,300 670,370 665,400 690,460 680,500 640,530 610,550 600,590 560,620 520,640 480,670 430,665 370,650 335,620 335,580 300,540 250,520 230,480 220,440 170,400 120,370" fill="#95ddb2" stroke="#8a8a8a" stroke-width="5" stroke-linejoin="round"/>
<polygon points="195,860 260,880 310,920 370,905 410,940 440,985 500,1000 540,1030 560,1060 620,1030 700,1020 780,990 820,920 880,885 960,900 1050,965 990,1000 900,1010 870,1060 860,1100 800,1130 770,1200 740,1230 720,1300 680,1340 620,1340 540,1320 420,1320 350,1300 330,1250 340,1180 340,1130 290,1080 280,1010 250,960 220,910" fill="#95ddb2" stroke="#8a8a8a" stroke-width="5" stroke-linejoin="round"/>
<polygon points="110,1360 160,1380 220,1410 290,1410 320,1440 350,1470 400,1490 440,1500 470,1560 490,1640 510,1660 580,1640 640,1600 700,1560 760,1530 830,1480 910,1435 880,1500 850,1580 810,1640 800,1720 760,1790 740,1840 690,1870 620,1880 560,1900 500,1910 400,1870 330,1830 250,1780 240,1700 250,1640 200,1600 190,1520 150,1440" fill="#95ddb2" stroke="#8a8a8a" stroke-width="5" stroke-linejoin="round"/>
<path d="M470,660C478,617 502,498 520,400C538,302 568,125 578,70" fill="none" stroke="#8a8a8a" stroke-width="4"/>
<path d="M470,650C442,612 363,470 300,420C237,370 125,362 90,350" fill="none" stroke="#8a8a8a" stroke-width="4"/>
<path d="M520,400C540,408 620,442 640,450" fill="none" stroke="#8a8a8a" stroke-width="4"/>
<path d="M500,520C517,512 583,478 600,470" fill="none" stroke="#8a8a8a" stroke-width="4"/>
<path d="M420,560C405,557 345,543 330,540" fill="none" stroke="#8a8a8a" stroke-width="4"/>
<path d="M380,480C358,473 272,447 250,440" fill="none" stroke="#8a8a8a" stroke-width="4"/>
<path d="M545,300C556,293 599,267 610,260" fill="none" stroke="#8a8a8a" stroke-width="4"/>
<path d="M550,1060C525,1043 458,992 400,960C342,928 233,881 200,865" fill="none" stroke="#8a8a8a" stroke-width="4"/>
<path d="M560,1060C600,1043 720,976 800,960C880,944 1000,964 1040,965" fill="none" stroke="#8a8a8a" stroke-width="4"/>
<path d="M760,1000C753,1017 727,1083 720,1100" fill="none" stroke="#8a8a8a" stroke-width="4"/>
<path d="M400,1000C392,1017 358,1083 350,1100" fill="none" stroke="#8a8a8a" stroke-width="4"/>
<path d="M500,1650C467,1617 363,1498 300,1450C237,1402 150,1379 120,1365" fill="none" stroke="#8a8a8a" stroke-width="4"/>
<path d="M520,1650C553,1630 657,1565 720,1530C783,1495 870,1455 900,1440" fill="none" stroke="#8a8a8a" stroke-width="4"/>
<path d="M660,1600C667,1625 693,1725 700,1750" fill="none" stroke="#8a8a8a" stroke-width="4"/>
<path d="M330,1520C318,1533 272,1587 260,1600" fill="none" stroke="#8a8a8a" stroke-width="4"/>
<circle cx="655" cy="1195" r="55" fill="#990000" stroke="#333" stroke-width="7"/>
<circle cx="535" cy="1318" r="78" fill="#d40000" stroke="#333" stroke-width="7"/>
<circle cx="525" cy="1180" r="86" fill="#ee0000" stroke="#333" stroke-width="7"/>
<circle cx="375" cy="1720" r="75" fill="#990000" stroke="#333" stroke-width="7"/>
<circle cx="545" cy="1760" r="95" fill="#d40000" stroke="#333" stroke-width="7"/>
<circle cx="425" cy="1855" r="95" fill="#ee0000" stroke="#333" stroke-width="7"/>
<circle cx="580" cy="1160" r="18" fill="#000"/>
<circle cx="612" cy="1215" r="14" fill="#000"/>
<circle cx="592" cy="1280" r="18" fill="#000"/>
<circle cx="540" cy="1755" r="20" fill="#000"/>
<circle cx="465" cy="1800" r="15" fill="#000"/>
<circle cx="423" cy="1865" r="20" fill="#000"/>
</g>
<g transform="translate(50,1418) scale(0.13563)">
<path d="M476,668 L508,668 L562,1040 L548,1400 L522,1640 L484,2060 L412,2132 L406,1960 L462,1630 L492,1400 L518,1040 Z" fill="#c8b6b6"/>
<polygon points="80,350 130,330 200,305 240,305 290,330 340,325 375,345 395,400 410,420 445,380 445,320 480,285 510,240 520,200 560,140 578,55 610,130 630,200 630,270 660,300 670,370 665,400 690,460 680,500 640,530 610,550 600,590 560,620 520,640 480,670 430,665 370,650 335,620 335,580 300,540 250,520 230,480 220,440 170,400 120,370" fill="#95ddb2" stroke="#8a8a8a" stroke-width="5" stroke-linejoin="round"/>
<polygon points="195,860 260,880 310,920 370,905 410,940 440,985 500,1000 540,1030 560,1060 620,1030 700,1020 780,990 820,920 880,885 960,900 1050,965 990,1000 900,1010 870,1060 860,1100 800,1130 770,1200 740,1230 720,1300 680,1340 620,1340 540,1320 420,1320 350,1300 330,1250 340,1180 340,1130 290,1080 280,1010 250,960 220,910" fill="#95ddb2" stroke="#8a8a8a" stroke-width="5" stroke-linejoin="round"/>
<polygon points="110,1360 160,1380 220,1410 290,1410 320,1440 350,1470 400,1490 440,1500 470,1560 490,1640 510,1660 580,1640 640,1600 700,1560 760,1530 830,1480 910,1435 880,1500 850,1580 810,1640 800,1720 760,1790 740,1840 690,1870 620,1880 560,1900 500,1910 400,1870 330,1830 250,1780 240,1700 250,1640 200,1600 190,1520 150,1440" fill="#95ddb2" stroke="#8a8a8a" stroke-width="5" stroke-linejoin="round"/>
<path d="M470,660C478,617 502,498 520,400C538,302 568,125 578,70" fill="none" stroke="#8a8a8a" stroke-width="4"/>
<path d="M470,650C442,612 363,470 300,420C237,370 125,362 90,350" fill="none" stroke="#8a8a8a" stroke-width="4"/>
<path d="M520,400C540,408 620,442 640,450" fill="none" stroke="#8a8a8a" stroke-width="4"/>
<path d="M500,520C517,512 583,478 600,470" fill="none" stroke="#8a8a8a" stroke-width="4"/>
<path d="M420,560C405,557 345,543 330,540" fill="none" stroke="#8a8a8a" stroke-width="4"/>
<path d="M380,480C358,473 272,447 250,440" fill="none" stroke="#8a8a8a" stroke-width="4"/>
<path d="M545,300C556,293 599,267 610,260" fill="none" stroke="#8a8a8a" stroke-width="4"/>
<path d="M550,1060C525,1043 458,992 400,960C342,928 233,881 200,865" fill="none" stroke="#8a8a8a" stroke-width="4"/>
<path d="M560,1060C600,1043 720,976 800,960C880,944 1000,964 1040,965" fill="none" stroke="#8a8a8a" stroke-width="4"/>
<path d="M760,1000C753,1017 727,1083 720,1100" fill="none" stroke="#8a8a8a" stroke-width="4"/>
<path d="M400,1000C392,1017 358,1083 350,1100" fill="none" stroke="#8a8a8a" stroke-width="4"/>
<path d="M500,1650C467,1617 363,1498 300,1450C237,1402 150,1379 120,1365" fill="none" stroke="#8a8a8a" stroke-width="4"/>
<path d="M520,1650C553,1630 657,1565 720,1530C783,1495 870,1455 900,1440" fill="none" stroke="#8a8a8a" stroke-width="4"/>
<path d="M660,1600C667,1625 693,1725 700,1750" fill="none" stroke="#8a8a8a" stroke-width="4"/>
<path d="M330,1520C318,1533 272,1587 260,1600" fill="none" stroke="#8a8a8a" stroke-width="4"/>
<circle cx="655" cy="1195" r="55" fill="#990000" stroke="#333" stroke-width="7"/>
<circle cx="535" cy="1318" r="78" fill="#d40000" stroke="#333" stroke-width="7"/>
<circle cx="525" cy="1180" r="86" fill="#ee0000" stroke="#333" stroke-width="7"/>
<circle cx="375" cy="1720" r="75" fill="#990000" stroke="#333" stroke-width="7"/>
<circle cx="545" cy="1760" r="95" fill="#d40000" stroke="#333" stroke-width="7"/>
<circle cx="425" cy="1855" r="95" fill="#ee0000" stroke="#333" stroke-width="7"/>
<circle cx="580" cy="1160" r="18" fill="#000"/>
<circle cx="612" cy="1215" r="14" fill="#000"/>
<circle cx="592" cy="1280" r="18" fill="#000"/>
<circle cx="540" cy="1755" r="20" fill="#000"/>
<circle cx="465" cy="1800" r="15" fill="#000"/>
<circle cx="423" cy="1865" r="20" fill="#000"/>
</g>
<g transform="translate(0,900) scale(0.11990)">
<path d="M120,320C150,302 237,313 300,310C363,307 450,312 500,300C550,288 558,255 600,240C642,225 707,214 750,210C793,206 820,208 860,215C900,222 942,241 990,250C1038,259 1098,263 1150,270C1202,277 1233,285 1300,290C1367,295 1510,265 1550,300C1590,335 1548,433 1540,500C1532,567 1518,633 1500,700C1482,767 1458,833 1430,900C1402,967 1368,1042 1330,1100C1292,1158 1255,1205 1200,1250C1145,1295 1067,1346 1000,1370C933,1394 867,1398 800,1395C733,1392 658,1372 600,1350C542,1328 495,1293 450,1260C405,1227 363,1193 330,1150C297,1107 275,1058 250,1000C225,942 198,867 180,800C162,733 150,663 140,600C130,537 123,467 120,420C117,373 90,338 120,320Z" fill="#f9f0ec"/>
<polygon points="878,168 966,168 968,480 950,545 948,700 955,850 1000,885 965,915 920,880 905,700 898,560 862,545 842,540 852,480 868,330" fill="#c87137"/>
<path d="M855,540C853,553 848,593 845,620C842,647 837,679 835,700C833,721 832,738 832,745" fill="none" stroke="#c87137" stroke-width="50.0" stroke-linecap="round" stroke-linejoin="round"/>
<path d="M850,760C840,763 808,773 790,780C772,787 758,790 745,800C732,810 722,823 715,840C708,857 710,880 705,900C700,920 694,939 685,960C676,981 656,1014 650,1025" fill="none" stroke="#c87137" stroke-width="27.5" stroke-linecap="round" stroke-linejoin="round"/>
<path d="M835,790C831,803 820,843 812,870C804,897 797,920 790,950C783,980 774,1025 772,1050C770,1075 778,1082 778,1100C778,1118 771,1150 770,1160" fill="none" stroke="#c87137" stroke-width="25.0" stroke-linecap="round" stroke-linejoin="round"/>
<path d="M852,790C852,802 852,832 850,860C848,888 840,943 838,960" fill="none" stroke="#c87137" stroke-width="16.2" stroke-linecap="round" stroke-linejoin="round"/>
<path d="M715,880C711,900 692,965 690,1000C688,1035 698,1075 700,1090" fill="none" stroke="#c87137" stroke-width="15.0" stroke-linecap="round" stroke-linejoin="round"/>
<path d="M780,1000C774,1010 751,1050 745,1060" fill="none" stroke="#c87137" stroke-width="12.5" stroke-linecap="round" stroke-linejoin="round"/>
<path d="M950,880C958,883 988,887 1000,900C1012,913 1013,937 1020,960C1027,983 1028,1019 1040,1040C1052,1061 1075,1069 1090,1085C1105,1101 1122,1127 1128,1135" fill="none" stroke="#c87137" stroke-width="32.5" stroke-linecap="round" stroke-linejoin="round"/>
<path d="M950,900C949,917 943,967 942,1000C941,1033 942,1067 944,1100C946,1133 954,1167 955,1200C956,1233 952,1267 950,1300C948,1333 946,1383 945,1400" fill="none" stroke="#c87137" stroke-width="25.0" stroke-linecap="round" stroke-linejoin="round"/>
<path d="M945,905C934,912 896,938 880,950C864,962 855,971 850,975" fill="none" stroke="#c87137" stroke-width="15.0" stroke-linecap="round" stroke-linejoin="round"/>
<path d="M960,1080C968,1090 998,1113 1008,1140C1018,1167 1018,1223 1020,1240" fill="none" stroke="#c87137" stroke-width="16.2" stroke-linecap="round" stroke-linejoin="round"/>
<path d="M935,1050C928,1069 902,1146 895,1165" fill="none" stroke="#c87137" stroke-width="13.8" stroke-linecap="round" stroke-linejoin="round"/>
<path d="M1040,1040C1050,1062 1090,1148 1100,1170" fill="none" stroke="#c87137" stroke-width="12.5" stroke-linecap="round" stroke-linejoin="round"/>
<path d="M862,430C835,434 752,448 700,455C648,462 597,464 550,470C503,476 457,484 420,490C383,496 345,502 330,505" fill="none" stroke="#c87137" stroke-width="37.5" stroke-linecap="round" stroke-linejoin="round"/>
<path d="M870,360C842,362 758,367 700,372C642,377 582,388 520,390C458,392 362,386 330,385" fill="none" stroke="#c87137" stroke-width="25.0" stroke-linecap="round" stroke-linejoin="round"/>
<path d="M862,300C843,305 785,325 750,330C715,335 667,332 650,332" fill="none" stroke="#c87137" stroke-width="15.0" stroke-linecap="round" stroke-linejoin="round"/>
<path d="M720,335C713,331 693,313 680,310C667,307 647,314 640,315" fill="none" stroke="#c87137" stroke-width="12.5" stroke-linecap="round" stroke-linejoin="round"/>
<path d="M560,385C552,378 525,352 510,345C495,338 477,341 470,340" fill="none" stroke="#c87137" stroke-width="12.5" stroke-linecap="round" stroke-linejoin="round"/>
<path d="M450,390C442,382 415,350 400,340C385,330 367,332 360,330" fill="none" stroke="#c87137" stroke-width="12.5" stroke-linecap="round" stroke-linejoin="round"/>
<path d="M820,480C803,490 750,525 720,540C690,555 663,563 640,570C617,577 590,578 580,580" fill="none" stroke="#c87137" stroke-width="17.5" stroke-linecap="round" stroke-linejoin="round"/>
<path d="M760,540C750,552 717,589 700,610C683,631 667,656 660,665" fill="none" stroke="#c87137" stroke-width="17.5" stroke-linecap="round" stroke-linejoin="round"/>
<path d="M540,475C533,485 513,517 500,535C487,553 467,577 460,585" fill="none" stroke="#c87137" stroke-width="15.0" stroke-linecap="round" stroke-linejoin="round"/>
<path d="M470,485C462,495 433,526 420,545C407,564 395,591 390,600" fill="none" stroke="#c87137" stroke-width="15.0" stroke-linecap="round" stroke-linejoin="round"/>
<path d="M400,500C392,510 367,547 355,560C343,573 332,577 328,580" fill="none" stroke="#c87137" stroke-width="13.8" stroke-linecap="round" stroke-linejoin="round"/>
<path d="M620,440C613,437 597,423 580,420C563,417 530,420 520,420" fill="none" stroke="#c87137" stroke-width="11.2" stroke-linecap="round" stroke-linejoin="round"/>
<path d="M960,290C975,292 1022,297 1050,302C1078,307 1105,317 1130,320C1155,323 1170,324 1200,322C1230,320 1292,308 1310,305" fill="none" stroke="#c87137" stroke-width="20.0" stroke-linecap="round" stroke-linejoin="round"/>
<path d="M960,360C975,363 1018,375 1050,380C1082,385 1123,392 1150,390C1177,388 1200,373 1210,370" fill="none" stroke="#c87137" stroke-width="17.5" stroke-linecap="round" stroke-linejoin="round"/>
<path d="M965,420C984,422 1039,429 1080,432C1121,435 1188,439 1210,440" fill="none" stroke="#c87137" stroke-width="17.5" stroke-linecap="round" stroke-linejoin="round"/>
<path d="M975,470C992,475 1049,493 1080,500C1111,507 1133,508 1160,510C1187,512 1227,512 1240,512" fill="none" stroke="#c87137" stroke-width="20.0" stroke-linecap="round" stroke-linejoin="round"/>
<path d="M990,495C1002,502 1038,526 1060,540C1082,554 1090,570 1120,580C1150,590 1220,597 1240,600" fill="none" stroke="#c87137" stroke-width="17.5" stroke-linecap="round" stroke-linejoin="round"/>
<path d="M1080,540C1085,550 1098,582 1110,600C1122,618 1138,638 1150,650C1162,662 1177,667 1182,670" fill="none" stroke="#c87137" stroke-width="15.0" stroke-linecap="round" stroke-linejoin="round"/>
<path d="M1100,330C1108,334 1133,343 1150,355C1167,367 1192,392 1200,400" fill="none" stroke="#c87137" stroke-width="11.2" stroke-linecap="round" stroke-linejoin="round"/>
</g>
<g transform="translate(0,1998) scale(0.11990)">
<path d="M120,320C150,302 237,313 300,310C363,307 450,312 500,300C550,288 558,255 600,240C642,225 707,214 750,210C793,206 820,208 860,215C900,222 942,241 990,250C1038,259 1098,263 1150,270C1202,277 1233,285 1300,290C1367,295 1510,265 1550,300C1590,335 1548,433 1540,500C1532,567 1518,633 1500,700C1482,767 1458,833 1430,900C1402,967 1368,1042 1330,1100C1292,1158 1255,1205 1200,1250C1145,1295 1067,1346 1000,1370C933,1394 867,1398 800,1395C733,1392 658,1372 600,1350C542,1328 495,1293 450,1260C405,1227 363,1193 330,1150C297,1107 275,1058 250,1000C225,942 198,867 180,800C162,733 150,663 140,600C130,537 123,467 120,420C117,373 90,338 120,320Z" fill="#f9f0ec"/>
<polygon points="878,168 966,168 968,480 950,545 948,700 955,850 1000,885 965,915 920,880 905,700 898,560 862,545 842,540 852,480 868,330" fill="#c87137"/>
<path d="M855,540C853,553 848,593 845,620C842,647 837,679 835,700C833,721 832,738 832,745" fill="none" stroke="#c87137" stroke-width="50.0" stroke-linecap="round" stroke-linejoin="round"/>
<path d="M850,760C840,763 808,773 790,780C772,787 758,790 745,800C732,810 722,823 715,840C708,857 710,880 705,900C700,920 694,939 685,960C676,981 656,1014 650,1025" fill="none" stroke="#c87137" stroke-width="27.5" stroke-linecap="round" stroke-linejoin="round"/>
<path d="M835,790C831,803 820,843 812,870C804,897 797,920 790,950C783,980 774,1025 772,1050C770,1075 778,1082 778,1100C778,1118 771,1150 770,1160" fill="none" stroke="#c87137" stroke-width="25.0" stroke-linecap="round" stroke-linejoin="round"/>
<path d="M852,790C852,802 852,832 850,860C848,888 840,943 838,960" fill="none" stroke="#c87137" stroke-width="16.2" stroke-linecap="round" stroke-linejoin="round"/>
<path d="M715,880C711,900 692,965 690,1000C688,1035 698,1075 700,1090" fill="none" stroke="#c87137" stroke-width="15.0" stroke-linecap="round" stroke-linejoin="round"/>
<path d="M780,1000C774,1010 751,1050 745,1060" fill="none" stroke="#c87137" stroke-width="12.5" stroke-linecap="round" stroke-linejoin="round"/>
<path d="M950,880C958,883 988,887 1000,900C1012,913 1013,937 1020,960C1027,983 1028,1019 1040,1040C1052,1061 1075,1069 1090,1085C1105,1101 1122,1127 1128,1135" fill="none" stroke="#c87137" stroke-width="32.5" stroke-linecap="round" stroke-linejoin="round"/>
<path d="M950,900C949,917 943,967 942,1000C941,1033 942,1067 944,1100C946,1133 954,1167 955,1200C956,1233 952,1267 950,1300C948,1333 946,1383 945,1400" fill="none" stroke="#c87137" stroke-width="25.0" stroke-linecap="round" stroke-linejoin="round"/>
<path d="M945,905C934,912 896,938 880,950C864,962 855,971 850,975" fill="none" stroke="#c87137" stroke-width="15.0" stroke-linecap="round" stroke-linejoin="round"/>
<path d="M960,1080C968,1090 998,1113 1008,1140C1018,1167 1018,1223 1020,1240" fill="none" stroke="#c87137" stroke-width="16.2" stroke-linecap="round" stroke-linejoin="round"/>
<path d="M935,1050C928,1069 902,1146 895,1165" fill="none" stroke="#c87137" stroke-width="13.8" stroke-linecap="round" stroke-linejoin="round"/>
<path d="M1040,1040C1050,1062 1090,1148 1100,1170" fill="none" stroke="#c87137" stroke-width="12.5" stroke-linecap="round" stroke-linejoin="round"/>
<path d="M862,430C835,434 752,448 700,455C648,462 597,464 550,470C503,476 457,484 420,490C383,496 345,502 330,505" fill="none" stroke="#c87137" stroke-width="37.5" stroke-linecap="round" stroke-linejoin="round"/>
<path d="M870,360C842,362 758,367 700,372C642,377 582,388 520,390C458,392 362,386 330,385" fill="none" stroke="#c87137" stroke-width="25.0" stroke-linecap="round" stroke-linejoin="round"/>
<path d="M862,300C843,305 785,325 750,330C715,335 667,332 650,332" fill="none" stroke="#c87137" stroke-width="15.0" stroke-linecap="round" stroke-linejoin="round"/>
<path d="M720,335C713,331 693,313 680,310C667,307 647,314 640,315" fill="none" stroke="#c87137" stroke-width="12.5" stroke-linecap="round" stroke-linejoin="round"/>
<path d="M560,385C552,378 525,352 510,345C495,338 477,341 470,340" fill="none" stroke="#c87137" stroke-width="12.5" stroke-linecap="round" stroke-linejoin="round"/>
<path d="M450,390C442,382 415,350 400,340C385,330 367,332 360,330" fill="none" stroke="#c87137" stroke-width="12.5" stroke-linecap="round" stroke-linejoin="round"/>
<path d="M820,480C803,490 750,525 720,540C690,555 663,563 640,570C617,577 590,578 580,580" fill="none" stroke="#c87137" stroke-width="17.5" stroke-linecap="round" stroke-linejoin="round"/>
<path d="M760,540C750,552 717,589 700,610C683,631 667,656 660,665" fill="none" stroke="#c87137" stroke-width="17.5" stroke-linecap="round" stroke-linejoin="round"/>
<path d="M540,475C533,485 513,517 500,535C487,553 467,577 460,585" fill="none" stroke="#c87137" stroke-width="15.0" stroke-linecap="round" stroke-linejoin="round"/>
<path d="M470,485C462,495 433,526 420,545C407,564 395,591 390,600" fill="none" stroke="#c87137" stroke-width="15.0" stroke-linecap="round" stroke-linejoin="round"/>
<path d="M400,500C392,510 367,547 355,560C343,573 332,577 328,580" fill="none" stroke="#c87137" stroke-width="13.8" stroke-linecap="round" stroke-linejoin="round"/>
<path d="M620,440C613,437 597,423 580,420C563,417 530,420 520,420" fill="none" stroke="#c87137" stroke-width="11.2" stroke-linecap="round" stroke-linejoin="round"/>
<path d="M960,290C975,292 1022,297 1050,302C1078,307 1105,317 1130,320C1155,323 1170,324 1200,322C1230,320 1292,308 1310,305" fill="none" stroke="#c87137" stroke-width="20.0" stroke-linecap="round" stroke-linejoin="round"/>
<path d="M960,360C975,363 1018,375 1050,380C1082,385 1123,392 1150,390C1177,388 1200,373 1210,370" fill="none" stroke="#c87137" stroke-width="17.5" stroke-linecap="round" stroke-linejoin="round"/>
<path d="M965,420C984,422 1039,429 1080,432C1121,435 1188,439 1210,440" fill="none" stroke="#c87137" stroke-width="17.5" stroke-linecap="round" stroke-linejoin="round"/>
<path d="M975,470C992,475 1049,493 1080,500C1111,507 1133,508 1160,510C1187,512 1227,512 1240,512" fill="none" stroke="#c87137" stroke-width="20.0" stroke-linecap="round" stroke-linejoin="round"/>
<path d="M990,495C1002,502 1038,526 1060,540C1082,554 1090,570 1120,580C1150,590 1220,597 1240,600" fill="none" stroke="#c87137" stroke-width="17.5" stroke-linecap="round" stroke-linejoin="round"/>
<path d="M1080,540C1085,550 1098,582 1110,600C1122,618 1138,638 1150,650C1162,662 1177,667 1182,670" fill="none" stroke="#c87137" stroke-width="15.0" stroke-linecap="round" stroke-linejoin="round"/>
<path d="M1100,330C1108,334 1133,343 1150,355C1167,367 1192,392 1200,400" fill="none" stroke="#c87137" stroke-width="11.2" stroke-linecap="round" stroke-linejoin="round"/>
</g>
<line x1="38.9" y1="256.2" x2="38.9" y2="1207.8" stroke="#000" stroke-width="2.0"/>
<path d="M32.0,256.2L38.9,249.3L45.8,256.2L38.9,263.1Z" fill="#fff" stroke="#000" stroke-width="2.0"/>
<path d="M32.0,1207.8L38.9,1200.9L45.8,1207.8L38.9,1214.7Z" fill="#fff" stroke="#000" stroke-width="2.0"/>
<line x1="38.9" y1="1311.9" x2="38.9" y2="2264" stroke="#000" stroke-width="2.0"/>
<path d="M32.0,1311.9L38.9,1305.0L45.8,1311.9L38.9,1318.8Z" fill="#fff" stroke="#000" stroke-width="2.0"/>
<path d="M32.0,2264.0L38.9,2257.1L45.8,2264.0L38.9,2270.9Z" fill="#fff" stroke="#000" stroke-width="2.0"/>
<text x="128.54" y="286.80" font-size="48.5" font-weight="normal" font-family="'DejaVu Sans', Verdana, sans-serif" fill="#000" textLength="80.95" lengthAdjust="spacingAndGlyphs">(A)</text>
<rect x="244" y="250.6" width="453.5" height="434.3" fill="none" stroke="#333" stroke-width="4"/>
<text x="360.50" y="716.80" font-size="30" font-weight="normal" font-family="'DejaVu Sans', Verdana, sans-serif" fill="#000" textLength="229.02" lengthAdjust="spacingAndGlyphs">PC<tspan font-size="19" dy="6">1</tspan><tspan dy="-6"> (47.35 %)</tspan></text>
<text transform="translate(229.10,0) rotate(-90)" x="-568.54" y="0" font-size="32" font-weight="normal" font-family="'DejaVu Sans', Verdana, sans-serif" fill="#000" textLength="204.13" lengthAdjust="spacingAndGlyphs">PC<tspan font-size="20.5" dy="6.5">2</tspan><tspan dy="-6.5"> (9.09 %)</tspan></text>
<rect x="765" y="250.6" width="453.5" height="434.3" fill="none" stroke="#333" stroke-width="4"/>
<text x="880.80" y="716.80" font-size="30" font-weight="normal" font-family="'DejaVu Sans', Verdana, sans-serif" fill="#000" textLength="229.02" lengthAdjust="spacingAndGlyphs">PC<tspan font-size="19" dy="6">1</tspan><tspan dy="-6"> (47.35 %)</tspan></text>
<text transform="translate(749.10,0) rotate(-90)" x="-568.54" y="0" font-size="32" font-weight="normal" font-family="'DejaVu Sans', Verdana, sans-serif" fill="#000" textLength="204.13" lengthAdjust="spacingAndGlyphs">PC<tspan font-size="20.5" dy="6.5">2</tspan><tspan dy="-6.5"> (9.09 %)</tspan></text>
<text x="1320.00" y="241.40" font-size="22.4" font-weight="bold" font-family="'DejaVu Sans', Verdana, sans-serif" fill="#000" textLength="32.20" lengthAdjust="spacingAndGlyphs">R<tspan font-size="15.5" dy="-9.5">2</tspan></text>
<rect x="1359.3" y="250.6" width="162.7" height="132.3" fill="#e9f5f8"/>
<rect x="1359.3" y="382.9" width="162.7" height="308.7" fill="#fdf1ea"/>
<rect x="1254.5" y="250.6" width="51.7" height="44.1" fill="#00b050"/>
<line x1="1284.0" y1="257.3" x2="1284.0" y2="287.9" stroke="#000" stroke-width="5.7"/>
<line x1="1269.7" y1="263.4" x2="1298.3" y2="281.9" stroke="#000" stroke-width="5.7"/>
<line x1="1269.7" y1="281.9" x2="1298.3" y2="263.4" stroke="#000" stroke-width="5.7"/>
<text x="1311.61" y="281.60" font-size="20.8" font-weight="normal" font-family="'DejaVu Sans', Verdana, sans-serif" fill="#000" textLength="50.48" lengthAdjust="spacingAndGlyphs">0.28</text>
<text x="1374.00" y="281.60" font-size="20.8" font-weight="normal" font-family="'DejaVu Sans', Verdana, sans-serif" fill="#000" textLength="87.38" lengthAdjust="spacingAndGlyphs">Altitude</text>
<rect x="1254.5" y="294.7" width="51.7" height="44.1" fill="#00b050"/>
<line x1="1284.0" y1="301.4" x2="1284.0" y2="332.1" stroke="#000" stroke-width="5.7"/>
<line x1="1269.7" y1="307.5" x2="1298.3" y2="326.0" stroke="#000" stroke-width="5.7"/>
<line x1="1269.7" y1="326.0" x2="1298.3" y2="307.5" stroke="#000" stroke-width="5.7"/>
<text x="1311.61" y="325.70" font-size="20.8" font-weight="normal" font-family="'DejaVu Sans', Verdana, sans-serif" fill="#000" textLength="50.48" lengthAdjust="spacingAndGlyphs">0.46</text>
<text x="1370.05" y="325.70" font-size="20.8" font-weight="normal" font-family="'DejaVu Sans', Verdana, sans-serif" fill="#000" textLength="149.96" lengthAdjust="spacingAndGlyphs">Mountainside</text>
<rect x="1254.5" y="338.8" width="51.7" height="44.1" fill="#b3d69b"/>
<text x="1311.61" y="369.80" font-size="20.8" font-weight="normal" font-family="'DejaVu Sans', Verdana, sans-serif" fill="#000" textLength="50.48" lengthAdjust="spacingAndGlyphs">0.13</text>
<text x="1370.05" y="369.80" font-size="20.8" font-weight="normal" font-family="'DejaVu Sans', Verdana, sans-serif" fill="#000" textLength="105.69" lengthAdjust="spacingAndGlyphs">Radiation</text>
<rect x="1254.5" y="382.9" width="51.7" height="44.1" fill="#e2efdb"/>
<text x="1311.61" y="413.90" font-size="20.8" font-weight="normal" font-family="'DejaVu Sans', Verdana, sans-serif" fill="#000" textLength="50.48" lengthAdjust="spacingAndGlyphs">0.02</text>
<text x="1370.05" y="413.90" font-size="20.8" font-weight="normal" font-family="'DejaVu Sans', Verdana, sans-serif" fill="#000" textLength="31.01" lengthAdjust="spacingAndGlyphs">pH</text>
<rect x="1254.5" y="427.0" width="51.7" height="44.1" fill="#aed294"/>
<text x="1311.61" y="458.00" font-size="20.8" font-weight="normal" font-family="'DejaVu Sans', Verdana, sans-serif" fill="#000" textLength="50.48" lengthAdjust="spacingAndGlyphs">0.02</text>
<text x="1370.05" y="458.00" font-size="20.8" font-weight="normal" font-family="'DejaVu Sans', Verdana, sans-serif" fill="#000" textLength="13.49" lengthAdjust="spacingAndGlyphs">P</text>
<rect x="1254.5" y="471.1" width="51.7" height="44.1" fill="#d5e5c6"/>
<text x="1311.61" y="502.10" font-size="20.8" font-weight="normal" font-family="'DejaVu Sans', Verdana, sans-serif" fill="#000" textLength="50.48" lengthAdjust="spacingAndGlyphs">0.02</text>
<text x="1370.05" y="502.10" font-size="20.8" font-weight="normal" font-family="'DejaVu Sans', Verdana, sans-serif" fill="#000" textLength="14.66" lengthAdjust="spacingAndGlyphs">K</text>
<rect x="1254.5" y="515.2" width="51.7" height="44.1" fill="#e2efda"/>
<text x="1311.61" y="546.20" font-size="20.8" font-weight="normal" font-family="'DejaVu Sans', Verdana, sans-serif" fill="#000" textLength="50.48" lengthAdjust="spacingAndGlyphs">0.02</text>
<text x="1371.12" y="546.20" font-size="20.8" font-weight="normal" font-family="'DejaVu Sans', Verdana, sans-serif" fill="#000" textLength="29.31" lengthAdjust="spacingAndGlyphs">Ca</text>
<rect x="1254.5" y="559.3" width="51.7" height="44.1" fill="#aed294"/>
<text x="1311.61" y="590.30" font-size="20.8" font-weight="normal" font-family="'DejaVu Sans', Verdana, sans-serif" fill="#000" textLength="50.48" lengthAdjust="spacingAndGlyphs">0.02</text>
<text x="1370.05" y="590.30" font-size="20.8" font-weight="normal" font-family="'DejaVu Sans', Verdana, sans-serif" fill="#000" textLength="33.49" lengthAdjust="spacingAndGlyphs">Mg</text>
<rect x="1254.5" y="603.4" width="51.7" height="44.1" fill="#ebf3e8"/>
<text x="1311.61" y="634.40" font-size="20.8" font-weight="normal" font-family="'DejaVu Sans', Verdana, sans-serif" fill="#000" textLength="50.48" lengthAdjust="spacingAndGlyphs">0.13</text>
<text x="1370.05" y="634.40" font-size="20.8" font-weight="normal" font-family="'DejaVu Sans', Verdana, sans-serif" fill="#000" textLength="57.06" lengthAdjust="spacingAndGlyphs">H+Al</text>
<rect x="1254.5" y="647.5" width="51.7" height="44.1" fill="#62c175"/>
<line x1="1284.0" y1="654.2" x2="1284.0" y2="684.8" stroke="#000" stroke-width="5.7"/>
<line x1="1269.7" y1="660.3" x2="1298.3" y2="678.8" stroke="#000" stroke-width="5.7"/>
<line x1="1269.7" y1="678.8" x2="1298.3" y2="660.3" stroke="#000" stroke-width="5.7"/>
<text x="1311.61" y="678.50" font-size="20.8" font-weight="normal" font-family="'DejaVu Sans', Verdana, sans-serif" fill="#000" textLength="50.48" lengthAdjust="spacingAndGlyphs">0.13</text>
<text x="1371.12" y="678.50" font-size="20.8" font-weight="normal" font-family="'DejaVu Sans', Verdana, sans-serif" fill="#000" textLength="81.78" lengthAdjust="spacingAndGlyphs">CTC (T)</text>
<line x1="1254.5" y1="250.6" x2="1522" y2="250.6" stroke="#000" stroke-width="1.4"/>
<line x1="1254.5" y1="294.7" x2="1359.3" y2="294.7" stroke="#000" stroke-width="1.4"/>
<line x1="1254.5" y1="338.8" x2="1359.3" y2="338.8" stroke="#000" stroke-width="1.4"/>
<line x1="1254.5" y1="382.9" x2="1522" y2="382.9" stroke="#000" stroke-width="2" stroke-dasharray="2.5,1.5"/>
<line x1="1254.5" y1="427.0" x2="1359.3" y2="427.0" stroke="#000" stroke-width="1.4"/>
<line x1="1254.5" y1="471.1" x2="1359.3" y2="471.1" stroke="#000" stroke-width="1.4"/>
<line x1="1254.5" y1="515.2" x2="1359.3" y2="515.2" stroke="#000" stroke-width="1.4"/>
<line x1="1254.5" y1="559.3" x2="1359.3" y2="559.3" stroke="#000" stroke-width="1.4"/>
<line x1="1254.5" y1="603.4" x2="1359.3" y2="603.4" stroke="#000" stroke-width="1.4"/>
<line x1="1254.5" y1="647.5" x2="1359.3" y2="647.5" stroke="#000" stroke-width="1.4"/>
<line x1="1254.5" y1="691.6" x2="1522" y2="691.6" stroke="#000" stroke-width="1.4"/>
<line x1="1254.5" y1="250.6" x2="1254.5" y2="691.6" stroke="#000" stroke-width="1.4"/>
<line x1="1306.2" y1="250.6" x2="1306.2" y2="691.6" stroke="#000" stroke-width="1.4"/>
<line x1="1359.3" y1="250.6" x2="1359.3" y2="691.6" stroke="#000" stroke-width="1.4"/>
<line x1="1522" y1="286.2" x2="1575" y2="286.2" stroke="#000" stroke-width="2.6"/>
<path d="M1588,286.2 L1568,281.2 L1573,286.2 L1568,291.2 Z" fill="#000" stroke="#000" stroke-width="0.8" stroke-linejoin="miter"/>
<line x1="1522" y1="669.5" x2="1575" y2="669.5" stroke="#000" stroke-width="2.6"/>
<path d="M1588,669.5 L1568,664.5 L1573,669.5 L1568,674.5 Z" fill="#000" stroke="#000" stroke-width="0.8" stroke-linejoin="miter"/>
<text x="1594.60" y="282.60" font-size="19.8" font-weight="normal" font-family="'DejaVu Sans', Verdana, sans-serif" fill="#000" textLength="131.04" lengthAdjust="spacingAndGlyphs">Topographic</text>
<text x="1627.20" y="303.90" font-size="19.8" font-weight="normal" font-family="'DejaVu Sans', Verdana, sans-serif" fill="#000" textLength="74.18" lengthAdjust="spacingAndGlyphs">factors</text>
<text x="1609.28" y="667.10" font-size="22.4" font-weight="normal" font-family="'DejaVu Sans', Verdana, sans-serif" fill="#000" textLength="98.87" lengthAdjust="spacingAndGlyphs">Edaphic</text>
<text x="1615.89" y="685.40" font-size="22.4" font-weight="normal" font-family="'DejaVu Sans', Verdana, sans-serif" fill="#000" textLength="85.51" lengthAdjust="spacingAndGlyphs">factors</text>
<rect x="1534.6" y="325.7" width="243.1" height="289.9" fill="#fff" stroke="#000" stroke-width="1.3"/>
<circle cx="1655.5" cy="420.2" r="78" fill="#eaf6fa" stroke="#888" stroke-width="1.1"/>
<circle cx="1655.5" cy="514.0" r="78" fill="#fdf3ef" stroke="#888" stroke-width="1.1"/>
<clipPath id="cv0"><circle cx="1655.5" cy="420.2" r="78"/></clipPath>
<circle cx="1655.5" cy="514.0" r="78" fill="#f0efeb" stroke="#888" stroke-width="1.1" clip-path="url(#cv0)"/>
<clipPath id="cw0"><circle cx="1655.5" cy="514.0" r="78"/></clipPath>
<circle cx="1655.5" cy="420.2" r="78" fill="none" stroke="#c9b9b3" stroke-width="1.2" clip-path="url(#cw0)"/>
<text x="1621.30" y="408.70" font-size="19.5" font-weight="normal" font-family="'DejaVu Sans', Verdana, sans-serif" fill="#000" textLength="74.97" lengthAdjust="spacingAndGlyphs">27.3 %</text>
<text x="1620.75" y="474.80" font-size="19.5" font-weight="normal" font-family="'DejaVu Sans', Verdana, sans-serif" fill="#000" textLength="74.97" lengthAdjust="spacingAndGlyphs">18.4 %</text>
<text x="1638.35" y="528.30" font-size="19.5" font-weight="normal" font-family="'DejaVu Sans', Verdana, sans-serif" fill="#000" textLength="40.85" lengthAdjust="spacingAndGlyphs">0 %</text>
<text x="1575.30" y="612.80" font-size="17.7" font-weight="normal" font-family="'Liberation Sans', Arial, sans-serif" fill="#000" textLength="77.67" lengthAdjust="spacingAndGlyphs">Residuals</text>
<text x="1663.80" y="612.80" font-size="17.7" font-weight="normal" font-family="'Liberation Sans', Arial, sans-serif" fill="#000" textLength="55.08" lengthAdjust="spacingAndGlyphs">54.3 %</text>
<line x1="1656" y1="367.6" x2="1656" y2="310.0" stroke="#000" stroke-width="2.2"/>
<path d="M1652.5,316.0 L1656,305.0 L1659.5,316.0 Z" fill="#000"/>
<line x1="1656" y1="575.5" x2="1656" y2="633.0" stroke="#000" stroke-width="2.2"/>
<path d="M1652.5,627.0 L1656,638.0 L1659.5,627.0 Z" fill="#000"/>
<text x="128.54" y="814.00" font-size="48.5" font-weight="normal" font-family="'DejaVu Sans', Verdana, sans-serif" fill="#000" textLength="81.06" lengthAdjust="spacingAndGlyphs">(B)</text>
<rect x="244" y="778.6" width="453.5" height="434.3" fill="none" stroke="#333" stroke-width="4"/>
<text x="360.50" y="1244.80" font-size="30" font-weight="normal" font-family="'DejaVu Sans', Verdana, sans-serif" fill="#000" textLength="229.02" lengthAdjust="spacingAndGlyphs">PC<tspan font-size="19" dy="6">1</tspan><tspan dy="-6"> (10.79 %)</tspan></text>
<text transform="translate(229.10,0) rotate(-90)" x="-1096.54" y="0" font-size="32" font-weight="normal" font-family="'DejaVu Sans', Verdana, sans-serif" fill="#000" textLength="204.13" lengthAdjust="spacingAndGlyphs">PC<tspan font-size="20.5" dy="6.5">2</tspan><tspan dy="-6.5"> (7.86 %)</tspan></text>
<rect x="765" y="778.6" width="453.5" height="434.3" fill="none" stroke="#333" stroke-width="4"/>
<text x="880.80" y="1244.80" font-size="30" font-weight="normal" font-family="'DejaVu Sans', Verdana, sans-serif" fill="#000" textLength="229.02" lengthAdjust="spacingAndGlyphs">PC<tspan font-size="19" dy="6">1</tspan><tspan dy="-6"> (10.79 %)</tspan></text>
<text transform="translate(749.10,0) rotate(-90)" x="-1096.54" y="0" font-size="32" font-weight="normal" font-family="'DejaVu Sans', Verdana, sans-serif" fill="#000" textLength="204.13" lengthAdjust="spacingAndGlyphs">PC<tspan font-size="20.5" dy="6.5">2</tspan><tspan dy="-6.5"> (7.86 %)</tspan></text>
<text x="1320.00" y="769.40" font-size="22.4" font-weight="bold" font-family="'DejaVu Sans', Verdana, sans-serif" fill="#000" textLength="32.20" lengthAdjust="spacingAndGlyphs">R<tspan font-size="15.5" dy="-9.5">2</tspan></text>
<rect x="1359.3" y="777.4" width="162.7" height="132.3" fill="#e9f5f8"/>
<rect x="1359.3" y="909.7" width="162.7" height="308.7" fill="#fdf1ea"/>
<rect x="1254.5" y="777.4" width="51.7" height="44.1" fill="#c6e0b4"/>
<text x="1311.61" y="808.40" font-size="20.8" font-weight="normal" font-family="'DejaVu Sans', Verdana, sans-serif" fill="#000" textLength="50.48" lengthAdjust="spacingAndGlyphs">0.05</text>
<text x="1374.00" y="808.40" font-size="20.8" font-weight="normal" font-family="'DejaVu Sans', Verdana, sans-serif" fill="#000" textLength="87.38" lengthAdjust="spacingAndGlyphs">Altitude</text>
<rect x="1254.5" y="821.5" width="51.7" height="44.1" fill="#1cb05a"/>
<line x1="1284.0" y1="828.2" x2="1284.0" y2="858.8" stroke="#000" stroke-width="5.7"/>
<line x1="1269.7" y1="834.3" x2="1298.3" y2="852.8" stroke="#000" stroke-width="5.7"/>
<line x1="1269.7" y1="852.8" x2="1298.3" y2="834.3" stroke="#000" stroke-width="5.7"/>
<text x="1311.61" y="852.50" font-size="20.8" font-weight="normal" font-family="'DejaVu Sans', Verdana, sans-serif" fill="#000" textLength="50.48" lengthAdjust="spacingAndGlyphs">0.14</text>
<text x="1370.05" y="852.50" font-size="20.8" font-weight="normal" font-family="'DejaVu Sans', Verdana, sans-serif" fill="#000" textLength="149.96" lengthAdjust="spacingAndGlyphs">Mountainside</text>
<rect x="1254.5" y="865.6" width="51.7" height="44.1" fill="#8fcb84"/>
<line x1="1284.0" y1="872.4" x2="1284.0" y2="902.9" stroke="#000" stroke-width="5.7"/>
<line x1="1269.7" y1="878.4" x2="1298.3" y2="896.9" stroke="#000" stroke-width="5.7"/>
<line x1="1269.7" y1="896.9" x2="1298.3" y2="878.4" stroke="#000" stroke-width="5.7"/>
<text x="1311.61" y="896.60" font-size="20.8" font-weight="normal" font-family="'DejaVu Sans', Verdana, sans-serif" fill="#000" textLength="50.48" lengthAdjust="spacingAndGlyphs">0.07</text>
<text x="1370.05" y="896.60" font-size="20.8" font-weight="normal" font-family="'DejaVu Sans', Verdana, sans-serif" fill="#000" textLength="105.69" lengthAdjust="spacingAndGlyphs">Radiation</text>
<rect x="1254.5" y="909.7" width="51.7" height="44.1" fill="#00b050"/>
<line x1="1284.0" y1="916.5" x2="1284.0" y2="947.0" stroke="#000" stroke-width="5.7"/>
<line x1="1269.7" y1="922.5" x2="1298.3" y2="941.0" stroke="#000" stroke-width="5.7"/>
<line x1="1269.7" y1="941.0" x2="1298.3" y2="922.5" stroke="#000" stroke-width="5.7"/>
<text x="1311.61" y="940.70" font-size="20.8" font-weight="normal" font-family="'DejaVu Sans', Verdana, sans-serif" fill="#000" textLength="50.48" lengthAdjust="spacingAndGlyphs">0.10</text>
<text x="1370.05" y="940.70" font-size="20.8" font-weight="normal" font-family="'DejaVu Sans', Verdana, sans-serif" fill="#000" textLength="31.01" lengthAdjust="spacingAndGlyphs">pH</text>
<rect x="1254.5" y="953.8" width="51.7" height="44.1" fill="#aed294"/>
<text x="1311.61" y="984.80" font-size="20.8" font-weight="normal" font-family="'DejaVu Sans', Verdana, sans-serif" fill="#000" textLength="50.48" lengthAdjust="spacingAndGlyphs">0.05</text>
<text x="1370.05" y="984.80" font-size="20.8" font-weight="normal" font-family="'DejaVu Sans', Verdana, sans-serif" fill="#000" textLength="13.49" lengthAdjust="spacingAndGlyphs">P</text>
<rect x="1254.5" y="997.9" width="51.7" height="44.1" fill="#92cc88"/>
<line x1="1284.0" y1="1004.6" x2="1284.0" y2="1035.2" stroke="#000" stroke-width="5.7"/>
<line x1="1269.7" y1="1010.7" x2="1298.3" y2="1029.2" stroke="#000" stroke-width="5.7"/>
<line x1="1269.7" y1="1029.2" x2="1298.3" y2="1010.7" stroke="#000" stroke-width="5.7"/>
<text x="1311.61" y="1028.90" font-size="20.8" font-weight="normal" font-family="'DejaVu Sans', Verdana, sans-serif" fill="#000" textLength="50.48" lengthAdjust="spacingAndGlyphs">0.06</text>
<text x="1370.05" y="1028.90" font-size="20.8" font-weight="normal" font-family="'DejaVu Sans', Verdana, sans-serif" fill="#000" textLength="14.66" lengthAdjust="spacingAndGlyphs">K</text>
<rect x="1254.5" y="1042.0" width="51.7" height="44.1" fill="#00b050"/>
<line x1="1284.0" y1="1048.8" x2="1284.0" y2="1079.3" stroke="#000" stroke-width="5.7"/>
<line x1="1269.7" y1="1054.8" x2="1298.3" y2="1073.3" stroke="#000" stroke-width="5.7"/>
<line x1="1269.7" y1="1073.3" x2="1298.3" y2="1054.8" stroke="#000" stroke-width="5.7"/>
<text x="1311.61" y="1073.00" font-size="20.8" font-weight="normal" font-family="'DejaVu Sans', Verdana, sans-serif" fill="#000" textLength="50.48" lengthAdjust="spacingAndGlyphs">0.09</text>
<text x="1371.12" y="1073.00" font-size="20.8" font-weight="normal" font-family="'DejaVu Sans', Verdana, sans-serif" fill="#000" textLength="29.31" lengthAdjust="spacingAndGlyphs">Ca</text>
<rect x="1254.5" y="1086.1" width="51.7" height="44.1" fill="#00b050"/>
<line x1="1284.0" y1="1092.8" x2="1284.0" y2="1123.4" stroke="#000" stroke-width="5.7"/>
<line x1="1269.7" y1="1098.9" x2="1298.3" y2="1117.4" stroke="#000" stroke-width="5.7"/>
<line x1="1269.7" y1="1117.4" x2="1298.3" y2="1098.9" stroke="#000" stroke-width="5.7"/>
<text x="1311.61" y="1117.10" font-size="20.8" font-weight="normal" font-family="'DejaVu Sans', Verdana, sans-serif" fill="#000" textLength="50.48" lengthAdjust="spacingAndGlyphs">0.09</text>
<text x="1370.05" y="1117.10" font-size="20.8" font-weight="normal" font-family="'DejaVu Sans', Verdana, sans-serif" fill="#000" textLength="33.49" lengthAdjust="spacingAndGlyphs">Mg</text>
<rect x="1254.5" y="1130.2" width="51.7" height="44.1" fill="#00b050"/>
<line x1="1284.0" y1="1137.0" x2="1284.0" y2="1167.5" stroke="#000" stroke-width="5.7"/>
<line x1="1269.7" y1="1143.0" x2="1298.3" y2="1161.5" stroke="#000" stroke-width="5.7"/>
<line x1="1269.7" y1="1161.5" x2="1298.3" y2="1143.0" stroke="#000" stroke-width="5.7"/>
<text x="1311.61" y="1161.20" font-size="20.8" font-weight="normal" font-family="'DejaVu Sans', Verdana, sans-serif" fill="#000" textLength="50.48" lengthAdjust="spacingAndGlyphs">0.09</text>
<text x="1370.05" y="1161.20" font-size="20.8" font-weight="normal" font-family="'DejaVu Sans', Verdana, sans-serif" fill="#000" textLength="57.06" lengthAdjust="spacingAndGlyphs">H+Al</text>
<rect x="1254.5" y="1174.3" width="51.7" height="44.1" fill="#3bb767"/>
<line x1="1284.0" y1="1181.0" x2="1284.0" y2="1211.6" stroke="#000" stroke-width="5.7"/>
<line x1="1269.7" y1="1187.1" x2="1298.3" y2="1205.6" stroke="#000" stroke-width="5.7"/>
<line x1="1269.7" y1="1205.6" x2="1298.3" y2="1187.1" stroke="#000" stroke-width="5.7"/>
<text x="1311.61" y="1205.30" font-size="20.8" font-weight="normal" font-family="'DejaVu Sans', Verdana, sans-serif" fill="#000" textLength="50.48" lengthAdjust="spacingAndGlyphs">0.06</text>
<text x="1371.12" y="1205.30" font-size="20.8" font-weight="normal" font-family="'DejaVu Sans', Verdana, sans-serif" fill="#000" textLength="81.78" lengthAdjust="spacingAndGlyphs">CTC (T)</text>
<line x1="1254.5" y1="777.4" x2="1522" y2="777.4" stroke="#000" stroke-width="1.4"/>
<line x1="1254.5" y1="821.5" x2="1359.3" y2="821.5" stroke="#000" stroke-width="1.4"/>
<line x1="1254.5" y1="865.6" x2="1359.3" y2="865.6" stroke="#000" stroke-width="1.4"/>
<line x1="1254.5" y1="909.7" x2="1522" y2="909.7" stroke="#000" stroke-width="2" stroke-dasharray="2.5,1.5"/>
<line x1="1254.5" y1="953.8" x2="1359.3" y2="953.8" stroke="#000" stroke-width="1.4"/>
<line x1="1254.5" y1="997.9" x2="1359.3" y2="997.9" stroke="#000" stroke-width="1.4"/>
<line x1="1254.5" y1="1042.0" x2="1359.3" y2="1042.0" stroke="#000" stroke-width="1.4"/>
<line x1="1254.5" y1="1086.1" x2="1359.3" y2="1086.1" stroke="#000" stroke-width="1.4"/>
<line x1="1254.5" y1="1130.2" x2="1359.3" y2="1130.2" stroke="#000" stroke-width="1.4"/>
<line x1="1254.5" y1="1174.3" x2="1359.3" y2="1174.3" stroke="#000" stroke-width="1.4"/>
<line x1="1254.5" y1="1218.4" x2="1359.3" y2="1218.4" stroke="#000" stroke-width="1.4"/>
<line x1="1254.5" y1="777.4" x2="1254.5" y2="1218.4" stroke="#000" stroke-width="1.4"/>
<line x1="1306.2" y1="777.4" x2="1306.2" y2="1218.4" stroke="#000" stroke-width="1.4"/>
<line x1="1359.3" y1="777.4" x2="1359.3" y2="1218.4" stroke="#000" stroke-width="1.4"/>
<line x1="1522" y1="813.4" x2="1575" y2="813.4" stroke="#000" stroke-width="2.6"/>
<path d="M1588,813.4 L1568,808.4 L1573,813.4 L1568,818.4 Z" fill="#000" stroke="#000" stroke-width="0.8" stroke-linejoin="miter"/>
<line x1="1522" y1="1196.7" x2="1575" y2="1196.7" stroke="#000" stroke-width="2.6"/>
<path d="M1588,1196.7 L1568,1191.7 L1573,1196.7 L1568,1201.7 Z" fill="#000" stroke="#000" stroke-width="0.8" stroke-linejoin="miter"/>
<text x="1594.60" y="809.80" font-size="19.8" font-weight="normal" font-family="'DejaVu Sans', Verdana, sans-serif" fill="#000" textLength="131.04" lengthAdjust="spacingAndGlyphs">Topographic</text>
<text x="1627.20" y="831.10" font-size="19.8" font-weight="normal" font-family="'DejaVu Sans', Verdana, sans-serif" fill="#000" textLength="74.18" lengthAdjust="spacingAndGlyphs">factors</text>
<text x="1609.28" y="1194.30" font-size="22.4" font-weight="normal" font-family="'DejaVu Sans', Verdana, sans-serif" fill="#000" textLength="98.87" lengthAdjust="spacingAndGlyphs">Edaphic</text>
<text x="1615.89" y="1212.60" font-size="22.4" font-weight="normal" font-family="'DejaVu Sans', Verdana, sans-serif" fill="#000" textLength="85.51" lengthAdjust="spacingAndGlyphs">factors</text>
<rect x="1534.6" y="852.9" width="243.1" height="289.9" fill="#fff" stroke="#000" stroke-width="1.3"/>
<circle cx="1655.5" cy="947.4" r="78" fill="#eaf6fa" stroke="#888" stroke-width="1.1"/>
<circle cx="1655.5" cy="1041.2" r="78" fill="#fdf3ef" stroke="#888" stroke-width="1.1"/>
<clipPath id="cv1"><circle cx="1655.5" cy="947.4" r="78"/></clipPath>
<circle cx="1655.5" cy="1041.2" r="78" fill="#f0efeb" stroke="#888" stroke-width="1.1" clip-path="url(#cv1)"/>
<clipPath id="cw1"><circle cx="1655.5" cy="1041.2" r="78"/></clipPath>
<circle cx="1655.5" cy="947.4" r="78" fill="none" stroke="#c9b9b3" stroke-width="1.2" clip-path="url(#cw1)"/>
<text x="1638.35" y="935.90" font-size="19.5" font-weight="normal" font-family="'DejaVu Sans', Verdana, sans-serif" fill="#000" textLength="40.85" lengthAdjust="spacingAndGlyphs">2 %</text>
<text x="1627.90" y="1002.00" font-size="19.5" font-weight="normal" font-family="'DejaVu Sans', Verdana, sans-serif" fill="#000" textLength="61.33" lengthAdjust="spacingAndGlyphs">3.6 %</text>
<text x="1627.90" y="1055.50" font-size="19.5" font-weight="normal" font-family="'DejaVu Sans', Verdana, sans-serif" fill="#000" textLength="61.33" lengthAdjust="spacingAndGlyphs">3.8 %</text>
<text x="1571.50" y="1140.00" font-size="17.7" font-weight="normal" font-family="'Liberation Sans', Arial, sans-serif" fill="#000" textLength="77.67" lengthAdjust="spacingAndGlyphs">Residuals</text>
<text x="1660.00" y="1140.00" font-size="17.7" font-weight="normal" font-family="'Liberation Sans', Arial, sans-serif" fill="#000" textLength="55.08" lengthAdjust="spacingAndGlyphs">90.6 %</text>
<line x1="1656" y1="894.8" x2="1656" y2="837.2" stroke="#000" stroke-width="2.2"/>
<path d="M1652.5,843.2 L1656,832.2 L1659.5,843.2 Z" fill="#000"/>
<line x1="1656" y1="1102.7" x2="1656" y2="1160.2" stroke="#000" stroke-width="2.2"/>
<path d="M1652.5,1154.2 L1656,1165.2 L1659.5,1154.2 Z" fill="#000"/>
<text x="128.54" y="1341.20" font-size="48.5" font-weight="normal" font-family="'DejaVu Sans', Verdana, sans-serif" fill="#000" textLength="81.74" lengthAdjust="spacingAndGlyphs">(C)</text>
<rect x="244" y="1306.6" width="453.5" height="434.3" fill="none" stroke="#333" stroke-width="4"/>
<text x="360.50" y="1772.80" font-size="30" font-weight="normal" font-family="'DejaVu Sans', Verdana, sans-serif" fill="#000" textLength="229.02" lengthAdjust="spacingAndGlyphs">PC<tspan font-size="19" dy="6">1</tspan><tspan dy="-6"> (17.67 %)</tspan></text>
<text transform="translate(229.10,0) rotate(-90)" x="-1634.79" y="0" font-size="32" font-weight="normal" font-family="'DejaVu Sans', Verdana, sans-serif" fill="#000" textLength="225.00" lengthAdjust="spacingAndGlyphs">PC<tspan font-size="20.5" dy="6.5">2</tspan><tspan dy="-6.5"> (17.21 %)</tspan></text>
<rect x="765" y="1306.6" width="453.5" height="434.3" fill="none" stroke="#333" stroke-width="4"/>
<text x="880.80" y="1772.80" font-size="30" font-weight="normal" font-family="'DejaVu Sans', Verdana, sans-serif" fill="#000" textLength="229.02" lengthAdjust="spacingAndGlyphs">PC<tspan font-size="19" dy="6">1</tspan><tspan dy="-6"> (17.67 %)</tspan></text>
<text transform="translate(749.10,0) rotate(-90)" x="-1634.79" y="0" font-size="32" font-weight="normal" font-family="'DejaVu Sans', Verdana, sans-serif" fill="#000" textLength="225.00" lengthAdjust="spacingAndGlyphs">PC<tspan font-size="20.5" dy="6.5">2</tspan><tspan dy="-6.5"> (17.21 %)</tspan></text>
<text x="1320.00" y="1297.40" font-size="22.4" font-weight="bold" font-family="'DejaVu Sans', Verdana, sans-serif" fill="#000" textLength="32.20" lengthAdjust="spacingAndGlyphs">R<tspan font-size="15.5" dy="-9.5">2</tspan></text>
<rect x="1359.3" y="1305.0" width="162.7" height="132.3" fill="#e9f5f8"/>
<rect x="1359.3" y="1437.3" width="162.7" height="308.7" fill="#fdf1ea"/>
<rect x="1254.5" y="1305.0" width="51.7" height="44.1" fill="#00b050"/>
<line x1="1284.0" y1="1311.8" x2="1284.0" y2="1342.3" stroke="#000" stroke-width="5.7"/>
<line x1="1269.7" y1="1317.8" x2="1298.3" y2="1336.3" stroke="#000" stroke-width="5.7"/>
<line x1="1269.7" y1="1336.3" x2="1298.3" y2="1317.8" stroke="#000" stroke-width="5.7"/>
<text x="1311.61" y="1336.00" font-size="20.8" font-weight="normal" font-family="'DejaVu Sans', Verdana, sans-serif" fill="#000" textLength="50.48" lengthAdjust="spacingAndGlyphs">0.12</text>
<text x="1374.00" y="1339.00" font-size="20.8" font-weight="normal" font-family="'DejaVu Sans', Verdana, sans-serif" fill="#000" textLength="87.38" lengthAdjust="spacingAndGlyphs">Altitude</text>
<rect x="1254.5" y="1349.1" width="51.7" height="44.1" fill="#00b050"/>
<line x1="1284.0" y1="1355.8" x2="1284.0" y2="1386.4" stroke="#000" stroke-width="5.7"/>
<line x1="1269.7" y1="1361.9" x2="1298.3" y2="1380.4" stroke="#000" stroke-width="5.7"/>
<line x1="1269.7" y1="1380.4" x2="1298.3" y2="1361.9" stroke="#000" stroke-width="5.7"/>
<text x="1311.61" y="1380.10" font-size="20.8" font-weight="normal" font-family="'DejaVu Sans', Verdana, sans-serif" fill="#000" textLength="50.48" lengthAdjust="spacingAndGlyphs">0.21</text>
<text x="1370.05" y="1383.10" font-size="20.8" font-weight="normal" font-family="'DejaVu Sans', Verdana, sans-serif" fill="#000" textLength="149.96" lengthAdjust="spacingAndGlyphs">Mountainside</text>
<rect x="1254.5" y="1393.2" width="51.7" height="44.1" fill="#b1d597"/>
<text x="1311.61" y="1424.20" font-size="20.8" font-weight="normal" font-family="'DejaVu Sans', Verdana, sans-serif" fill="#000" textLength="50.48" lengthAdjust="spacingAndGlyphs">0.07</text>
<text x="1370.05" y="1427.20" font-size="20.8" font-weight="normal" font-family="'DejaVu Sans', Verdana, sans-serif" fill="#000" textLength="105.69" lengthAdjust="spacingAndGlyphs">Radiation</text>
<rect x="1254.5" y="1437.3" width="51.7" height="44.1" fill="#aed294"/>
<text x="1311.61" y="1468.30" font-size="20.8" font-weight="normal" font-family="'DejaVu Sans', Verdana, sans-serif" fill="#000" textLength="50.48" lengthAdjust="spacingAndGlyphs">0.07</text>
<text x="1370.05" y="1471.30" font-size="20.8" font-weight="normal" font-family="'DejaVu Sans', Verdana, sans-serif" fill="#000" textLength="31.01" lengthAdjust="spacingAndGlyphs">pH</text>
<rect x="1254.5" y="1481.4" width="51.7" height="44.1" fill="#00b050"/>
<line x1="1284.0" y1="1488.2" x2="1284.0" y2="1518.8" stroke="#000" stroke-width="5.7"/>
<line x1="1269.7" y1="1494.2" x2="1298.3" y2="1512.7" stroke="#000" stroke-width="5.7"/>
<line x1="1269.7" y1="1512.7" x2="1298.3" y2="1494.2" stroke="#000" stroke-width="5.7"/>
<text x="1311.61" y="1512.40" font-size="20.8" font-weight="normal" font-family="'DejaVu Sans', Verdana, sans-serif" fill="#000" textLength="50.48" lengthAdjust="spacingAndGlyphs">0.11</text>
<text x="1370.05" y="1515.40" font-size="20.8" font-weight="normal" font-family="'DejaVu Sans', Verdana, sans-serif" fill="#000" textLength="13.49" lengthAdjust="spacingAndGlyphs">P</text>
<rect x="1254.5" y="1525.5" width="51.7" height="44.1" fill="#bbdba6"/>
<text x="1311.61" y="1556.50" font-size="20.8" font-weight="normal" font-family="'DejaVu Sans', Verdana, sans-serif" fill="#000" textLength="50.48" lengthAdjust="spacingAndGlyphs">0.05</text>
<text x="1370.05" y="1559.50" font-size="20.8" font-weight="normal" font-family="'DejaVu Sans', Verdana, sans-serif" fill="#000" textLength="14.66" lengthAdjust="spacingAndGlyphs">K</text>
<rect x="1254.5" y="1569.6" width="51.7" height="44.1" fill="#aed294"/>
<text x="1311.61" y="1600.60" font-size="20.8" font-weight="normal" font-family="'DejaVu Sans', Verdana, sans-serif" fill="#000" textLength="50.48" lengthAdjust="spacingAndGlyphs">0.07</text>
<text x="1371.12" y="1603.60" font-size="20.8" font-weight="normal" font-family="'DejaVu Sans', Verdana, sans-serif" fill="#000" textLength="29.31" lengthAdjust="spacingAndGlyphs">Ca</text>
<rect x="1254.5" y="1613.7" width="51.7" height="44.1" fill="#00b050"/>
<line x1="1284.0" y1="1620.5" x2="1284.0" y2="1651.0" stroke="#000" stroke-width="5.7"/>
<line x1="1269.7" y1="1626.5" x2="1298.3" y2="1645.0" stroke="#000" stroke-width="5.7"/>
<line x1="1269.7" y1="1645.0" x2="1298.3" y2="1626.5" stroke="#000" stroke-width="5.7"/>
<text x="1311.61" y="1644.70" font-size="20.8" font-weight="normal" font-family="'DejaVu Sans', Verdana, sans-serif" fill="#000" textLength="50.48" lengthAdjust="spacingAndGlyphs">0.10</text>
<text x="1370.05" y="1647.70" font-size="20.8" font-weight="normal" font-family="'DejaVu Sans', Verdana, sans-serif" fill="#000" textLength="33.49" lengthAdjust="spacingAndGlyphs">Mg</text>
<rect x="1254.5" y="1657.8" width="51.7" height="44.1" fill="#b1d597"/>
<text x="1311.61" y="1688.80" font-size="20.8" font-weight="normal" font-family="'DejaVu Sans', Verdana, sans-serif" fill="#000" textLength="50.48" lengthAdjust="spacingAndGlyphs">0.06</text>
<text x="1370.05" y="1691.80" font-size="20.8" font-weight="normal" font-family="'DejaVu Sans', Verdana, sans-serif" fill="#000" textLength="57.06" lengthAdjust="spacingAndGlyphs">H+Al</text>
<rect x="1254.5" y="1701.9" width="51.7" height="44.1" fill="#b1d597"/>
<text x="1311.61" y="1732.90" font-size="20.8" font-weight="normal" font-family="'DejaVu Sans', Verdana, sans-serif" fill="#000" textLength="50.48" lengthAdjust="spacingAndGlyphs">0.08</text>
<text x="1371.12" y="1735.90" font-size="20.8" font-weight="normal" font-family="'DejaVu Sans', Verdana, sans-serif" fill="#000" textLength="81.78" lengthAdjust="spacingAndGlyphs">CTC (T)</text>
<line x1="1254.5" y1="1305.0" x2="1359.3" y2="1305.0" stroke="#000" stroke-width="1.4"/>
<line x1="1254.5" y1="1349.1" x2="1359.3" y2="1349.1" stroke="#000" stroke-width="1.4"/>
<line x1="1254.5" y1="1393.2" x2="1359.3" y2="1393.2" stroke="#000" stroke-width="1.4"/>
<line x1="1254.5" y1="1437.3" x2="1522" y2="1437.3" stroke="#000" stroke-width="2" stroke-dasharray="2.5,1.5"/>
<line x1="1254.5" y1="1481.4" x2="1359.3" y2="1481.4" stroke="#000" stroke-width="1.4"/>
<line x1="1254.5" y1="1525.5" x2="1359.3" y2="1525.5" stroke="#000" stroke-width="1.4"/>
<line x1="1254.5" y1="1569.6" x2="1359.3" y2="1569.6" stroke="#000" stroke-width="1.4"/>
<line x1="1254.5" y1="1613.7" x2="1359.3" y2="1613.7" stroke="#000" stroke-width="1.4"/>
<line x1="1254.5" y1="1657.8" x2="1359.3" y2="1657.8" stroke="#000" stroke-width="1.4"/>
<line x1="1254.5" y1="1701.9" x2="1359.3" y2="1701.9" stroke="#000" stroke-width="1.4"/>
<line x1="1254.5" y1="1746.0" x2="1522" y2="1746.0" stroke="#000" stroke-width="1.4"/>
<line x1="1254.5" y1="1305.0" x2="1254.5" y2="1746.0" stroke="#000" stroke-width="1.4"/>
<line x1="1306.2" y1="1305.0" x2="1306.2" y2="1746.0" stroke="#000" stroke-width="1.4"/>
<line x1="1359.3" y1="1305.0" x2="1359.3" y2="1746.0" stroke="#000" stroke-width="1.4"/>
<line x1="1522" y1="1340.6" x2="1575" y2="1340.6" stroke="#000" stroke-width="2.6"/>
<path d="M1588,1340.6 L1568,1335.6 L1573,1340.6 L1568,1345.6 Z" fill="#000" stroke="#000" stroke-width="0.8" stroke-linejoin="miter"/>
<line x1="1522" y1="1723.9" x2="1575" y2="1723.9" stroke="#000" stroke-width="2.6"/>
<path d="M1588,1723.9 L1568,1718.9 L1573,1723.9 L1568,1728.9 Z" fill="#000" stroke="#000" stroke-width="0.8" stroke-linejoin="miter"/>
<text x="1594.60" y="1337.00" font-size="19.8" font-weight="normal" font-family="'DejaVu Sans', Verdana, sans-serif" fill="#000" textLength="131.04" lengthAdjust="spacingAndGlyphs">Topographic</text>
<text x="1627.20" y="1358.30" font-size="19.8" font-weight="normal" font-family="'DejaVu Sans', Verdana, sans-serif" fill="#000" textLength="74.18" lengthAdjust="spacingAndGlyphs">factors</text>
<text x="1609.28" y="1721.50" font-size="22.4" font-weight="normal" font-family="'DejaVu Sans', Verdana, sans-serif" fill="#000" textLength="98.87" lengthAdjust="spacingAndGlyphs">Edaphic</text>
<text x="1615.89" y="1739.80" font-size="22.4" font-weight="normal" font-family="'DejaVu Sans', Verdana, sans-serif" fill="#000" textLength="85.51" lengthAdjust="spacingAndGlyphs">factors</text>
<rect x="1534.6" y="1380.1" width="243.1" height="289.9" fill="#fff" stroke="#000" stroke-width="1.3"/>
<circle cx="1655.5" cy="1474.6" r="78" fill="#eaf6fa" stroke="#888" stroke-width="1.1"/>
<circle cx="1655.5" cy="1568.4" r="78" fill="#fdf3ef" stroke="#888" stroke-width="1.1"/>
<clipPath id="cv2"><circle cx="1655.5" cy="1474.6" r="78"/></clipPath>
<circle cx="1655.5" cy="1568.4" r="78" fill="#f0efeb" stroke="#888" stroke-width="1.1" clip-path="url(#cv2)"/>
<clipPath id="cw2"><circle cx="1655.5" cy="1568.4" r="78"/></clipPath>
<circle cx="1655.5" cy="1474.6" r="78" fill="none" stroke="#c9b9b3" stroke-width="1.2" clip-path="url(#cw2)"/>
<text x="1631.20" y="1463.10" font-size="19.5" font-weight="normal" font-family="'DejaVu Sans', Verdana, sans-serif" fill="#000" textLength="54.50" lengthAdjust="spacingAndGlyphs">10 %</text>
<text x="1631.20" y="1529.20" font-size="19.5" font-weight="normal" font-family="'DejaVu Sans', Verdana, sans-serif" fill="#000" textLength="54.50" lengthAdjust="spacingAndGlyphs">16 %</text>
<text x="1638.35" y="1582.70" font-size="19.5" font-weight="normal" font-family="'DejaVu Sans', Verdana, sans-serif" fill="#000" textLength="40.85" lengthAdjust="spacingAndGlyphs">6 %</text>
<text x="1575.40" y="1667.20" font-size="17.7" font-weight="normal" font-family="'Liberation Sans', Arial, sans-serif" fill="#000" textLength="77.67" lengthAdjust="spacingAndGlyphs">Residuals</text>
<text x="1663.90" y="1667.20" font-size="17.7" font-weight="normal" font-family="'Liberation Sans', Arial, sans-serif" fill="#000" textLength="40.33" lengthAdjust="spacingAndGlyphs">68 %</text>
<line x1="1656" y1="1422.0" x2="1656" y2="1364.4" stroke="#000" stroke-width="2.2"/>
<path d="M1652.5,1370.4 L1656,1359.4 L1659.5,1370.4 Z" fill="#000"/>
<line x1="1656" y1="1629.9" x2="1656" y2="1687.4" stroke="#000" stroke-width="2.2"/>
<path d="M1652.5,1681.4 L1656,1692.4 L1659.5,1681.4 Z" fill="#000"/>
<text x="128.81" y="1868.40" font-size="48.5" font-weight="normal" font-family="'DejaVu Sans', Verdana, sans-serif" fill="#000" textLength="80.59" lengthAdjust="spacingAndGlyphs">(D)</text>
<rect x="244" y="1834.6" width="453.5" height="434.3" fill="none" stroke="#333" stroke-width="4"/>
<text x="360.50" y="2300.80" font-size="30" font-weight="normal" font-family="'DejaVu Sans', Verdana, sans-serif" fill="#000" textLength="229.02" lengthAdjust="spacingAndGlyphs">PC<tspan font-size="19" dy="6">1</tspan><tspan dy="-6"> (14.23 %)</tspan></text>
<text transform="translate(229.10,0) rotate(-90)" x="-2162.79" y="0" font-size="32" font-weight="normal" font-family="'DejaVu Sans', Verdana, sans-serif" fill="#000" textLength="225.00" lengthAdjust="spacingAndGlyphs">PC<tspan font-size="20.5" dy="6.5">2</tspan><tspan dy="-6.5"> (13.09 %)</tspan></text>
<rect x="765" y="1834.6" width="453.5" height="434.3" fill="none" stroke="#333" stroke-width="4"/>
<text x="880.80" y="2300.80" font-size="30" font-weight="normal" font-family="'DejaVu Sans', Verdana, sans-serif" fill="#000" textLength="229.02" lengthAdjust="spacingAndGlyphs">PC<tspan font-size="19" dy="6">1</tspan><tspan dy="-6"> (14.23 %)</tspan></text>
<text transform="translate(749.10,0) rotate(-90)" x="-2162.79" y="0" font-size="32" font-weight="normal" font-family="'DejaVu Sans', Verdana, sans-serif" fill="#000" textLength="225.00" lengthAdjust="spacingAndGlyphs">PC<tspan font-size="20.5" dy="6.5">2</tspan><tspan dy="-6.5"> (13.09 %)</tspan></text>
<text x="1320.00" y="1825.40" font-size="22.4" font-weight="bold" font-family="'DejaVu Sans', Verdana, sans-serif" fill="#000" textLength="32.20" lengthAdjust="spacingAndGlyphs">R<tspan font-size="15.5" dy="-9.5">2</tspan></text>
<rect x="1359.3" y="1833.0" width="162.7" height="132.3" fill="#e9f5f8"/>
<rect x="1359.3" y="1965.3" width="162.7" height="308.7" fill="#fdf1ea"/>
<rect x="1254.5" y="1833.0" width="51.7" height="44.1" fill="#00b050"/>
<line x1="1284.0" y1="1839.8" x2="1284.0" y2="1870.3" stroke="#000" stroke-width="5.7"/>
<line x1="1269.7" y1="1845.8" x2="1298.3" y2="1864.3" stroke="#000" stroke-width="5.7"/>
<line x1="1269.7" y1="1864.3" x2="1298.3" y2="1845.8" stroke="#000" stroke-width="5.7"/>
<text x="1311.61" y="1864.00" font-size="20.8" font-weight="normal" font-family="'DejaVu Sans', Verdana, sans-serif" fill="#000" textLength="50.48" lengthAdjust="spacingAndGlyphs">0.11</text>
<text x="1374.00" y="1866.00" font-size="20.8" font-weight="normal" font-family="'DejaVu Sans', Verdana, sans-serif" fill="#000" textLength="87.38" lengthAdjust="spacingAndGlyphs">Altitude</text>
<rect x="1254.5" y="1877.1" width="51.7" height="44.1" fill="#00b050"/>
<line x1="1284.0" y1="1883.8" x2="1284.0" y2="1914.4" stroke="#000" stroke-width="5.7"/>
<line x1="1269.7" y1="1889.9" x2="1298.3" y2="1908.4" stroke="#000" stroke-width="5.7"/>
<line x1="1269.7" y1="1908.4" x2="1298.3" y2="1889.9" stroke="#000" stroke-width="5.7"/>
<text x="1311.61" y="1908.10" font-size="20.8" font-weight="normal" font-family="'DejaVu Sans', Verdana, sans-serif" fill="#000" textLength="50.48" lengthAdjust="spacingAndGlyphs">0.22</text>
<text x="1370.05" y="1910.10" font-size="20.8" font-weight="normal" font-family="'DejaVu Sans', Verdana, sans-serif" fill="#000" textLength="149.96" lengthAdjust="spacingAndGlyphs">Mountainside</text>
<rect x="1254.5" y="1921.2" width="51.7" height="44.1" fill="#00b050"/>
<line x1="1284.0" y1="1928.0" x2="1284.0" y2="1958.5" stroke="#000" stroke-width="5.7"/>
<line x1="1269.7" y1="1934.0" x2="1298.3" y2="1952.5" stroke="#000" stroke-width="5.7"/>
<line x1="1269.7" y1="1952.5" x2="1298.3" y2="1934.0" stroke="#000" stroke-width="5.7"/>
<text x="1311.61" y="1952.20" font-size="20.8" font-weight="normal" font-family="'DejaVu Sans', Verdana, sans-serif" fill="#000" textLength="50.48" lengthAdjust="spacingAndGlyphs">0.09</text>
<text x="1370.05" y="1954.20" font-size="20.8" font-weight="normal" font-family="'DejaVu Sans', Verdana, sans-serif" fill="#000" textLength="105.69" lengthAdjust="spacingAndGlyphs">Radiation</text>
<rect x="1254.5" y="1965.3" width="51.7" height="44.1" fill="#00b050"/>
<line x1="1284.0" y1="1972.0" x2="1284.0" y2="2002.6" stroke="#000" stroke-width="5.7"/>
<line x1="1269.7" y1="1978.1" x2="1298.3" y2="1996.6" stroke="#000" stroke-width="5.7"/>
<line x1="1269.7" y1="1996.6" x2="1298.3" y2="1978.1" stroke="#000" stroke-width="5.7"/>
<text x="1311.61" y="1996.30" font-size="20.8" font-weight="normal" font-family="'DejaVu Sans', Verdana, sans-serif" fill="#000" textLength="50.48" lengthAdjust="spacingAndGlyphs">0.11</text>
<text x="1370.05" y="1998.30" font-size="20.8" font-weight="normal" font-family="'DejaVu Sans', Verdana, sans-serif" fill="#000" textLength="31.01" lengthAdjust="spacingAndGlyphs">pH</text>
<rect x="1254.5" y="2009.4" width="51.7" height="44.1" fill="#12b057"/>
<line x1="1284.0" y1="2016.2" x2="1284.0" y2="2046.8" stroke="#000" stroke-width="5.7"/>
<line x1="1269.7" y1="2022.2" x2="1298.3" y2="2040.7" stroke="#000" stroke-width="5.7"/>
<line x1="1269.7" y1="2040.7" x2="1298.3" y2="2022.2" stroke="#000" stroke-width="5.7"/>
<text x="1311.61" y="2040.40" font-size="20.8" font-weight="normal" font-family="'DejaVu Sans', Verdana, sans-serif" fill="#000" textLength="50.48" lengthAdjust="spacingAndGlyphs">0.08</text>
<text x="1370.05" y="2042.40" font-size="20.8" font-weight="normal" font-family="'DejaVu Sans', Verdana, sans-serif" fill="#000" textLength="13.49" lengthAdjust="spacingAndGlyphs">P</text>
<rect x="1254.5" y="2053.5" width="51.7" height="44.1" fill="#00b050"/>
<line x1="1284.0" y1="2060.2" x2="1284.0" y2="2090.9" stroke="#000" stroke-width="5.7"/>
<line x1="1269.7" y1="2066.3" x2="1298.3" y2="2084.8" stroke="#000" stroke-width="5.7"/>
<line x1="1269.7" y1="2084.8" x2="1298.3" y2="2066.3" stroke="#000" stroke-width="5.7"/>
<text x="1311.61" y="2084.50" font-size="20.8" font-weight="normal" font-family="'DejaVu Sans', Verdana, sans-serif" fill="#000" textLength="50.48" lengthAdjust="spacingAndGlyphs">0.08</text>
<text x="1370.05" y="2086.50" font-size="20.8" font-weight="normal" font-family="'DejaVu Sans', Verdana, sans-serif" fill="#000" textLength="14.66" lengthAdjust="spacingAndGlyphs">K</text>
<rect x="1254.5" y="2097.6" width="51.7" height="44.1" fill="#00b050"/>
<line x1="1284.0" y1="2104.3" x2="1284.0" y2="2135.0" stroke="#000" stroke-width="5.7"/>
<line x1="1269.7" y1="2110.4" x2="1298.3" y2="2128.9" stroke="#000" stroke-width="5.7"/>
<line x1="1269.7" y1="2128.9" x2="1298.3" y2="2110.4" stroke="#000" stroke-width="5.7"/>
<text x="1311.61" y="2128.60" font-size="20.8" font-weight="normal" font-family="'DejaVu Sans', Verdana, sans-serif" fill="#000" textLength="50.48" lengthAdjust="spacingAndGlyphs">0.10</text>
<text x="1371.12" y="2130.60" font-size="20.8" font-weight="normal" font-family="'DejaVu Sans', Verdana, sans-serif" fill="#000" textLength="29.31" lengthAdjust="spacingAndGlyphs">Ca</text>
<rect x="1254.5" y="2141.7" width="51.7" height="44.1" fill="#00b050"/>
<line x1="1284.0" y1="2148.4" x2="1284.0" y2="2179.1" stroke="#000" stroke-width="5.7"/>
<line x1="1269.7" y1="2154.5" x2="1298.3" y2="2173.0" stroke="#000" stroke-width="5.7"/>
<line x1="1269.7" y1="2173.0" x2="1298.3" y2="2154.5" stroke="#000" stroke-width="5.7"/>
<text x="1311.61" y="2172.70" font-size="20.8" font-weight="normal" font-family="'DejaVu Sans', Verdana, sans-serif" fill="#000" textLength="50.48" lengthAdjust="spacingAndGlyphs">0.12</text>
<text x="1370.05" y="2174.70" font-size="20.8" font-weight="normal" font-family="'DejaVu Sans', Verdana, sans-serif" fill="#000" textLength="33.49" lengthAdjust="spacingAndGlyphs">Mg</text>
<rect x="1254.5" y="2185.8" width="51.7" height="44.1" fill="#00b050"/>
<line x1="1284.0" y1="2192.6" x2="1284.0" y2="2223.2" stroke="#000" stroke-width="5.7"/>
<line x1="1269.7" y1="2198.6" x2="1298.3" y2="2217.1" stroke="#000" stroke-width="5.7"/>
<line x1="1269.7" y1="2217.1" x2="1298.3" y2="2198.6" stroke="#000" stroke-width="5.7"/>
<text x="1311.61" y="2216.80" font-size="20.8" font-weight="normal" font-family="'DejaVu Sans', Verdana, sans-serif" fill="#000" textLength="50.48" lengthAdjust="spacingAndGlyphs">0.13</text>
<text x="1370.05" y="2218.80" font-size="20.8" font-weight="normal" font-family="'DejaVu Sans', Verdana, sans-serif" fill="#000" textLength="57.06" lengthAdjust="spacingAndGlyphs">H+Al</text>
<rect x="1254.5" y="2229.9" width="51.7" height="44.1" fill="#00b050"/>
<line x1="1284.0" y1="2236.7" x2="1284.0" y2="2267.3" stroke="#000" stroke-width="5.7"/>
<line x1="1269.7" y1="2242.7" x2="1298.3" y2="2261.2" stroke="#000" stroke-width="5.7"/>
<line x1="1269.7" y1="2261.2" x2="1298.3" y2="2242.7" stroke="#000" stroke-width="5.7"/>
<text x="1311.61" y="2260.90" font-size="20.8" font-weight="normal" font-family="'DejaVu Sans', Verdana, sans-serif" fill="#000" textLength="50.48" lengthAdjust="spacingAndGlyphs">0.09</text>
<text x="1371.12" y="2262.90" font-size="20.8" font-weight="normal" font-family="'DejaVu Sans', Verdana, sans-serif" fill="#000" textLength="81.78" lengthAdjust="spacingAndGlyphs">CTC (T)</text>
<line x1="1254.5" y1="1833.0" x2="1359.3" y2="1833.0" stroke="#000" stroke-width="1.4"/>
<line x1="1254.5" y1="1877.1" x2="1359.3" y2="1877.1" stroke="#000" stroke-width="1.4"/>
<line x1="1254.5" y1="1921.2" x2="1359.3" y2="1921.2" stroke="#000" stroke-width="1.4"/>
<line x1="1254.5" y1="1965.3" x2="1522" y2="1965.3" stroke="#000" stroke-width="2" stroke-dasharray="2.5,1.5"/>
<line x1="1254.5" y1="2009.4" x2="1359.3" y2="2009.4" stroke="#000" stroke-width="1.4"/>
<line x1="1254.5" y1="2053.5" x2="1359.3" y2="2053.5" stroke="#000" stroke-width="1.4"/>
<line x1="1254.5" y1="2097.6" x2="1359.3" y2="2097.6" stroke="#000" stroke-width="1.4"/>
<line x1="1254.5" y1="2141.7" x2="1359.3" y2="2141.7" stroke="#000" stroke-width="1.4"/>
<line x1="1254.5" y1="2185.8" x2="1359.3" y2="2185.8" stroke="#000" stroke-width="1.4"/>
<line x1="1254.5" y1="2229.9" x2="1359.3" y2="2229.9" stroke="#000" stroke-width="1.4"/>
<line x1="1254.5" y1="2274.0" x2="1522" y2="2274.0" stroke="#000" stroke-width="1.4"/>
<line x1="1254.5" y1="1833.0" x2="1254.5" y2="2274.0" stroke="#000" stroke-width="1.4"/>
<line x1="1306.2" y1="1833.0" x2="1306.2" y2="2274.0" stroke="#000" stroke-width="1.4"/>
<line x1="1359.3" y1="1833.0" x2="1359.3" y2="2274.0" stroke="#000" stroke-width="1.4"/>
<line x1="1522" y1="1867.8" x2="1575" y2="1867.8" stroke="#000" stroke-width="2.6"/>
<path d="M1588,1867.8 L1568,1862.8 L1573,1867.8 L1568,1872.8 Z" fill="#000" stroke="#000" stroke-width="0.8" stroke-linejoin="miter"/>
<line x1="1522" y1="2251.1" x2="1575" y2="2251.1" stroke="#000" stroke-width="2.6"/>
<path d="M1588,2251.1 L1568,2246.1 L1573,2251.1 L1568,2256.1 Z" fill="#000" stroke="#000" stroke-width="0.8" stroke-linejoin="miter"/>
<text x="1594.60" y="1864.20" font-size="19.8" font-weight="normal" font-family="'DejaVu Sans', Verdana, sans-serif" fill="#000" textLength="131.04" lengthAdjust="spacingAndGlyphs">Topographic</text>
<text x="1627.20" y="1885.50" font-size="19.8" font-weight="normal" font-family="'DejaVu Sans', Verdana, sans-serif" fill="#000" textLength="74.18" lengthAdjust="spacingAndGlyphs">factors</text>
<text x="1609.28" y="2248.70" font-size="22.4" font-weight="normal" font-family="'DejaVu Sans', Verdana, sans-serif" fill="#000" textLength="98.87" lengthAdjust="spacingAndGlyphs">Edaphic</text>
<text x="1615.89" y="2267.00" font-size="22.4" font-weight="normal" font-family="'DejaVu Sans', Verdana, sans-serif" fill="#000" textLength="85.51" lengthAdjust="spacingAndGlyphs">factors</text>
<rect x="1534.6" y="1907.3" width="243.1" height="289.9" fill="#fff" stroke="#000" stroke-width="1.3"/>
<circle cx="1655.5" cy="2001.8" r="78" fill="#eaf6fa" stroke="#888" stroke-width="1.1"/>
<circle cx="1655.5" cy="2095.6" r="78" fill="#fdf3ef" stroke="#888" stroke-width="1.1"/>
<clipPath id="cv3"><circle cx="1655.5" cy="2001.8" r="78"/></clipPath>
<circle cx="1655.5" cy="2095.6" r="78" fill="#f0efeb" stroke="#888" stroke-width="1.1" clip-path="url(#cv3)"/>
<clipPath id="cw3"><circle cx="1655.5" cy="2095.6" r="78"/></clipPath>
<circle cx="1655.5" cy="2001.8" r="78" fill="none" stroke="#c9b9b3" stroke-width="1.2" clip-path="url(#cw3)"/>
<text x="1638.35" y="1990.30" font-size="19.5" font-weight="normal" font-family="'DejaVu Sans', Verdana, sans-serif" fill="#000" textLength="40.85" lengthAdjust="spacingAndGlyphs">0 %</text>
<text x="1624.60" y="2056.40" font-size="19.5" font-weight="normal" font-family="'DejaVu Sans', Verdana, sans-serif" fill="#000" textLength="68.15" lengthAdjust="spacingAndGlyphs">38.5%</text>
<text x="1638.35" y="2109.90" font-size="19.5" font-weight="normal" font-family="'DejaVu Sans', Verdana, sans-serif" fill="#000" textLength="40.85" lengthAdjust="spacingAndGlyphs">0 %</text>
<text x="1574.70" y="2194.40" font-size="17.7" font-weight="normal" font-family="'Liberation Sans', Arial, sans-serif" fill="#000" textLength="77.67" lengthAdjust="spacingAndGlyphs">Residuals</text>
<text x="1661.60" y="2194.40" font-size="17.7" font-weight="normal" font-family="'Liberation Sans', Arial, sans-serif" fill="#000" textLength="55.08" lengthAdjust="spacingAndGlyphs">61.5 %</text>
<line x1="1656" y1="1949.2" x2="1656" y2="1891.6" stroke="#000" stroke-width="2.2"/>
<path d="M1652.5,1897.6 L1656,1886.6 L1659.5,1897.6 Z" fill="#000"/>
<line x1="1656" y1="2157.1" x2="1656" y2="2214.6" stroke="#000" stroke-width="2.2"/>
<path d="M1652.5,2208.6 L1656,2219.6 L1659.5,2208.6 Z" fill="#000"/>
<text transform="translate(33.30,0) rotate(-90)" x="-831.96" y="0" font-size="31.4" font-weight="bold" font-family="'DejaVu Sans', Verdana, sans-serif" fill="#000" textLength="199.37" lengthAdjust="spacingAndGlyphs">Bacteriome</text>
<text transform="translate(27.90,0) rotate(-90)" x="-1886.95" y="0" font-size="31.4" font-weight="bold" font-family="'DejaVu Sans', Verdana, sans-serif" fill="#000" textLength="197.19" lengthAdjust="spacingAndGlyphs">Mycobiome</text>
</svg></body></html>
